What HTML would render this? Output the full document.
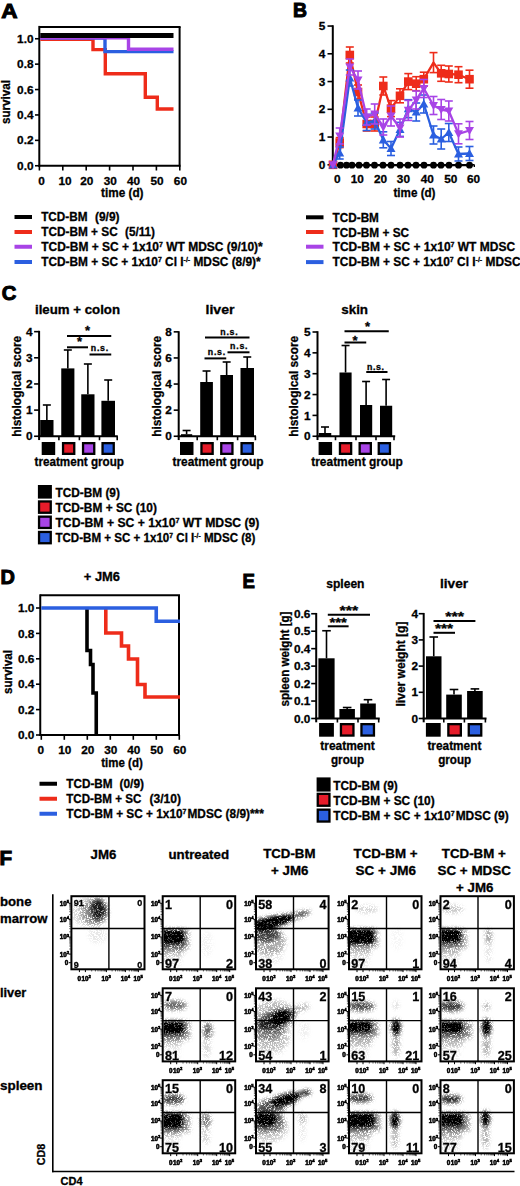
<!DOCTYPE html><html><head><meta charset="utf-8"><title>Figure</title>
<style>html,body{margin:0;padding:0;background:#fff}svg{display:block;filter:blur(0.45px)}text{font-family:"Liberation Sans",sans-serif;font-weight:bold;fill:#000;stroke:#000;stroke-width:.3px}.pl{stroke-width:1px;stroke-linejoin:miter}.tk{stroke-width:.55px}</style></head><body>
<svg width="520" height="1186" viewBox="0 0 520 1186">
<rect width="520" height="1186" fill="#fff"/>
<defs>
<radialGradient id="g"><stop offset="0" stop-color="#000" stop-opacity="1"/><stop offset="0.4" stop-color="#000" stop-opacity="0.95"/><stop offset="0.7" stop-color="#000" stop-opacity="0.55"/><stop offset="0.9" stop-color="#000" stop-opacity="0.15"/><stop offset="1" stop-color="#000" stop-opacity="0"/></radialGradient>
<filter id="spk" filterUnits="userSpaceOnUse" x="60" y="890" width="460" height="270" color-interpolation-filters="sRGB"><feGaussianBlur in="SourceAlpha" stdDeviation="2.3" result="bl"/><feTurbulence type="fractalNoise" baseFrequency="1.7" numOctaves="1" seed="11" result="n"/><feColorMatrix in="n" type="matrix" values="0 0 0 0 0 0 0 0 0 0 0 0 0 0 0 2.2 0 0 0 -0.1" result="na"/><feComposite in="bl" in2="na" operator="arithmetic" k1="0" k2="1" k3="1" k4="-1" result="d"/><feComponentTransfer in="d"><feFuncR type="linear" slope="0" intercept="0"/><feFuncG type="linear" slope="0" intercept="0"/><feFuncB type="linear" slope="0" intercept="0"/><feFuncA type="linear" slope="1.2" intercept="0"/></feComponentTransfer><feGaussianBlur stdDeviation="0.3"/></filter>
</defs>
<text class="pl" x="1.3" y="17.7" font-size="19.3" textLength="16.3" lengthAdjust="spacingAndGlyphs">A</text>
<line x1="39.3" y1="25.9" x2="39.3" y2="166.75" stroke="#000" stroke-width="2"/>
<line x1="38.3" y1="165.75" x2="180.6" y2="165.75" stroke="#000" stroke-width="2"/>
<line x1="39.3" y1="26.9" x2="180.6" y2="26.9" stroke="#000" stroke-width="2"/>
<line x1="179.6" y1="26.9" x2="179.6" y2="165.75" stroke="#000" stroke-width="2"/>
<line x1="35" y1="165.75" x2="39.3" y2="165.75" stroke="#000" stroke-width="1.6"/>
<text x="33.5" y="169.85" font-size="11.8" text-anchor="end">0.0</text>
<line x1="35" y1="140.35" x2="39.3" y2="140.35" stroke="#000" stroke-width="1.6"/>
<text x="33.5" y="144.45" font-size="11.8" text-anchor="end">0.2</text>
<line x1="35" y1="114.94999999999999" x2="39.3" y2="114.94999999999999" stroke="#000" stroke-width="1.6"/>
<text x="33.5" y="119.04999999999998" font-size="11.8" text-anchor="end">0.4</text>
<line x1="35" y1="89.54999999999998" x2="39.3" y2="89.54999999999998" stroke="#000" stroke-width="1.6"/>
<text x="33.5" y="93.64999999999998" font-size="11.8" text-anchor="end">0.6</text>
<line x1="35" y1="64.14999999999999" x2="39.3" y2="64.14999999999999" stroke="#000" stroke-width="1.6"/>
<text x="33.5" y="68.24999999999999" font-size="11.8" text-anchor="end">0.8</text>
<line x1="35" y1="38.75" x2="39.3" y2="38.75" stroke="#000" stroke-width="1.6"/>
<text x="33.5" y="42.85" font-size="11.8" text-anchor="end">1.0</text>
<line x1="39.4" y1="165.75" x2="39.4" y2="170.5" stroke="#000" stroke-width="1.6"/>
<text x="41.6" y="184.6" font-size="11.8" text-anchor="middle">0</text>
<line x1="62.8" y1="165.75" x2="62.8" y2="170.5" stroke="#000" stroke-width="1.6"/>
<text x="65.0" y="184.6" font-size="11.8" text-anchor="middle">10</text>
<line x1="86.19999999999999" y1="165.75" x2="86.19999999999999" y2="170.5" stroke="#000" stroke-width="1.6"/>
<text x="86.79999999999998" y="184.6" font-size="11.8" text-anchor="middle">20</text>
<line x1="109.6" y1="165.75" x2="109.6" y2="170.5" stroke="#000" stroke-width="1.6"/>
<text x="110.19999999999999" y="184.6" font-size="11.8" text-anchor="middle">30</text>
<line x1="133.0" y1="165.75" x2="133.0" y2="170.5" stroke="#000" stroke-width="1.6"/>
<text x="133.6" y="184.6" font-size="11.8" text-anchor="middle">40</text>
<line x1="156.4" y1="165.75" x2="156.4" y2="170.5" stroke="#000" stroke-width="1.6"/>
<text x="157.0" y="184.6" font-size="11.8" text-anchor="middle">50</text>
<line x1="179.79999999999998" y1="165.75" x2="179.79999999999998" y2="170.5" stroke="#000" stroke-width="1.6"/>
<text x="180.39999999999998" y="184.6" font-size="11.8" text-anchor="middle">60</text>
<text transform="translate(10,102) rotate(-90)" font-size="12" text-anchor="middle" textLength="44" lengthAdjust="spacingAndGlyphs">survival</text>
<text x="101" y="196.6" font-size="12" textLength="42.5" lengthAdjust="spacingAndGlyphs">time (d)</text>
<polyline points="40.30,39.20 93.00,39.20 93.00,49.60 105.30,49.60 105.30,73.80 145.30,73.80 145.30,97.20 157.30,97.20 157.30,109.00 173.50,109.00" fill="none" stroke="#ee2c1a" stroke-width="3.4"/>
<polyline points="40.30,38.00 105.00,38.00 105.00,51.60 173.50,51.60" fill="none" stroke="#2b5fe0" stroke-width="3.4"/>
<polyline points="40.30,37.70 128.50,37.70 128.50,49.20 173.50,49.20" fill="none" stroke="#a844e6" stroke-width="3.4"/>
<line x1="40.3" y1="35.4" x2="173.5" y2="35.4" stroke="#000" stroke-width="5"/>
<line x1="14.5" y1="217" x2="32" y2="217" stroke="#000" stroke-width="4"/>
<line x1="14.5" y1="232" x2="32" y2="232" stroke="#ee2c1a" stroke-width="4"/>
<line x1="14.5" y1="246.75" x2="32" y2="246.75" stroke="#a844e6" stroke-width="4"/>
<line x1="14.5" y1="262" x2="32" y2="262" stroke="#2b5fe0" stroke-width="4"/>
<text x="41.2" y="221.4" font-size="12" textLength="46.3" lengthAdjust="spacingAndGlyphs">TCD-BM</text>
<text x="95" y="221.4" font-size="12" textLength="24.5" lengthAdjust="spacingAndGlyphs">(9/9)</text>
<text x="41.2" y="236.4" font-size="12" textLength="76.5" lengthAdjust="spacingAndGlyphs">TCD-BM + SC</text>
<text x="125" y="236.4" font-size="12" textLength="30" lengthAdjust="spacingAndGlyphs">(5/11)</text>
<text x="41.2" y="251.15" font-size="12" textLength="221.5" lengthAdjust="spacingAndGlyphs">TCD-BM + SC + 1x10<tspan font-size="7" dy="-4">7</tspan><tspan dy="4"> </tspan>WT MDSC (9/10)*</text>
<text x="41.2" y="266.4" font-size="12" textLength="219.5" lengthAdjust="spacingAndGlyphs">TCD-BM + SC + 1x10<tspan font-size="7" dy="-4">7</tspan><tspan dy="4"> </tspan>Cl I<tspan font-size="7" dy="-4">-/-</tspan><tspan dy="4"> </tspan>MDSC (8/9)*</text>
<text class="pl" x="293" y="17.3" font-size="19.3" textLength="14" lengthAdjust="spacingAndGlyphs">B</text>
<line x1="332.8" y1="25.25000000000001" x2="332.8" y2="165.8" stroke="#000" stroke-width="2"/>
<line x1="332.8" y1="164.8" x2="474.5" y2="164.8" stroke="#000" stroke-width="1.6"/>
<line x1="474.3" y1="164.8" x2="474.3" y2="167" stroke="#000" stroke-width="1.4"/>
<line x1="327.5" y1="164.8" x2="332.8" y2="164.8" stroke="#000" stroke-width="1.6"/>
<text x="325.3" y="168.9" font-size="11.8" text-anchor="end">0</text>
<line x1="327.5" y1="137.05" x2="332.8" y2="137.05" stroke="#000" stroke-width="1.6"/>
<text x="325.3" y="141.15" font-size="11.8" text-anchor="end">1</text>
<line x1="327.5" y1="109.30000000000001" x2="332.8" y2="109.30000000000001" stroke="#000" stroke-width="1.6"/>
<text x="325.3" y="113.4" font-size="11.8" text-anchor="end">2</text>
<line x1="327.5" y1="81.55000000000001" x2="332.8" y2="81.55000000000001" stroke="#000" stroke-width="1.6"/>
<text x="325.3" y="85.65" font-size="11.8" text-anchor="end">3</text>
<line x1="327.5" y1="53.80000000000001" x2="332.8" y2="53.80000000000001" stroke="#000" stroke-width="1.6"/>
<text x="325.3" y="57.90000000000001" font-size="11.8" text-anchor="end">4</text>
<line x1="327.5" y1="26.05000000000001" x2="332.8" y2="26.05000000000001" stroke="#000" stroke-width="1.6"/>
<text x="325.3" y="30.150000000000013" font-size="11.8" text-anchor="end">5</text>
<text x="337.3" y="182.6" font-size="11.8" text-anchor="middle">0</text>
<text x="357.2" y="182.6" font-size="11.8" text-anchor="middle">10</text>
<text x="380.5" y="182.6" font-size="11.8" text-anchor="middle">20</text>
<text x="403.4" y="182.6" font-size="11.8" text-anchor="middle">30</text>
<text x="427.2" y="182.6" font-size="11.8" text-anchor="middle">40</text>
<text x="450.8" y="182.6" font-size="11.8" text-anchor="middle">50</text>
<text x="473.6" y="182.6" font-size="11.8" text-anchor="middle">60</text>
<text x="393.5" y="196.6" font-size="12" textLength="42" lengthAdjust="spacingAndGlyphs">time (d)</text>
<line x1="339.7" y1="137.6" x2="339.7" y2="147.6" stroke="#ee2c1a" stroke-width="1.6"/>
<line x1="335.7" y1="137.6" x2="343.7" y2="137.6" stroke="#ee2c1a" stroke-width="1.6"/>
<line x1="335.7" y1="147.6" x2="343.7" y2="147.6" stroke="#ee2c1a" stroke-width="1.6"/>
<line x1="349.8" y1="47" x2="349.8" y2="63" stroke="#ee2c1a" stroke-width="1.6"/>
<line x1="345.8" y1="47" x2="353.8" y2="47" stroke="#ee2c1a" stroke-width="1.6"/>
<line x1="345.8" y1="63" x2="353.8" y2="63" stroke="#ee2c1a" stroke-width="1.6"/>
<line x1="358" y1="85" x2="358" y2="99" stroke="#ee2c1a" stroke-width="1.6"/>
<line x1="354" y1="85" x2="362" y2="85" stroke="#ee2c1a" stroke-width="1.6"/>
<line x1="354" y1="99" x2="362" y2="99" stroke="#ee2c1a" stroke-width="1.6"/>
<line x1="366.7" y1="117" x2="366.7" y2="131" stroke="#ee2c1a" stroke-width="1.6"/>
<line x1="362.7" y1="117" x2="370.7" y2="117" stroke="#ee2c1a" stroke-width="1.6"/>
<line x1="362.7" y1="131" x2="370.7" y2="131" stroke="#ee2c1a" stroke-width="1.6"/>
<line x1="374.7" y1="117" x2="374.7" y2="131" stroke="#ee2c1a" stroke-width="1.6"/>
<line x1="370.7" y1="117" x2="378.7" y2="117" stroke="#ee2c1a" stroke-width="1.6"/>
<line x1="370.7" y1="131" x2="378.7" y2="131" stroke="#ee2c1a" stroke-width="1.6"/>
<line x1="383.3" y1="77" x2="383.3" y2="95" stroke="#ee2c1a" stroke-width="1.6"/>
<line x1="379.3" y1="77" x2="387.3" y2="77" stroke="#ee2c1a" stroke-width="1.6"/>
<line x1="379.3" y1="95" x2="387.3" y2="95" stroke="#ee2c1a" stroke-width="1.6"/>
<line x1="391" y1="100.6" x2="391" y2="116.6" stroke="#ee2c1a" stroke-width="1.6"/>
<line x1="387" y1="100.6" x2="395" y2="100.6" stroke="#ee2c1a" stroke-width="1.6"/>
<line x1="387" y1="116.6" x2="395" y2="116.6" stroke="#ee2c1a" stroke-width="1.6"/>
<line x1="400" y1="88.8" x2="400" y2="102.8" stroke="#ee2c1a" stroke-width="1.6"/>
<line x1="396" y1="88.8" x2="404" y2="88.8" stroke="#ee2c1a" stroke-width="1.6"/>
<line x1="396" y1="102.8" x2="404" y2="102.8" stroke="#ee2c1a" stroke-width="1.6"/>
<line x1="408.3" y1="73.6" x2="408.3" y2="89.6" stroke="#ee2c1a" stroke-width="1.6"/>
<line x1="404.3" y1="73.6" x2="412.3" y2="73.6" stroke="#ee2c1a" stroke-width="1.6"/>
<line x1="404.3" y1="89.6" x2="412.3" y2="89.6" stroke="#ee2c1a" stroke-width="1.6"/>
<line x1="416.2" y1="76.7" x2="416.2" y2="90.7" stroke="#ee2c1a" stroke-width="1.6"/>
<line x1="412.2" y1="76.7" x2="420.2" y2="76.7" stroke="#ee2c1a" stroke-width="1.6"/>
<line x1="412.2" y1="90.7" x2="420.2" y2="90.7" stroke="#ee2c1a" stroke-width="1.6"/>
<line x1="423.8" y1="72.2" x2="423.8" y2="86.2" stroke="#ee2c1a" stroke-width="1.6"/>
<line x1="419.8" y1="72.2" x2="427.8" y2="72.2" stroke="#ee2c1a" stroke-width="1.6"/>
<line x1="419.8" y1="86.2" x2="427.8" y2="86.2" stroke="#ee2c1a" stroke-width="1.6"/>
<line x1="433.5" y1="52.6" x2="433.5" y2="72.6" stroke="#ee2c1a" stroke-width="1.6"/>
<line x1="429.5" y1="52.6" x2="437.5" y2="52.6" stroke="#ee2c1a" stroke-width="1.6"/>
<line x1="429.5" y1="72.6" x2="437.5" y2="72.6" stroke="#ee2c1a" stroke-width="1.6"/>
<line x1="441.2" y1="65.3" x2="441.2" y2="81.3" stroke="#ee2c1a" stroke-width="1.6"/>
<line x1="437.2" y1="65.3" x2="445.2" y2="65.3" stroke="#ee2c1a" stroke-width="1.6"/>
<line x1="437.2" y1="81.3" x2="445.2" y2="81.3" stroke="#ee2c1a" stroke-width="1.6"/>
<line x1="448.8" y1="66" x2="448.8" y2="82" stroke="#ee2c1a" stroke-width="1.6"/>
<line x1="444.8" y1="66" x2="452.8" y2="66" stroke="#ee2c1a" stroke-width="1.6"/>
<line x1="444.8" y1="82" x2="452.8" y2="82" stroke="#ee2c1a" stroke-width="1.6"/>
<line x1="458.5" y1="66.7" x2="458.5" y2="82.7" stroke="#ee2c1a" stroke-width="1.6"/>
<line x1="454.5" y1="66.7" x2="462.5" y2="66.7" stroke="#ee2c1a" stroke-width="1.6"/>
<line x1="454.5" y1="82.7" x2="462.5" y2="82.7" stroke="#ee2c1a" stroke-width="1.6"/>
<line x1="469.5" y1="70.2" x2="469.5" y2="88.2" stroke="#ee2c1a" stroke-width="1.6"/>
<line x1="465.5" y1="70.2" x2="473.5" y2="70.2" stroke="#ee2c1a" stroke-width="1.6"/>
<line x1="465.5" y1="88.2" x2="473.5" y2="88.2" stroke="#ee2c1a" stroke-width="1.6"/>
<polyline points="333.00,164.80 339.70,142.60 349.80,55.00 358.00,92.00 366.70,124.00 374.70,124.00 383.30,86.00 391.00,108.60 400.00,95.80 408.30,81.60 416.20,83.70 423.80,79.20 433.50,62.60 441.20,73.30 448.80,74.00 458.50,74.70 469.50,79.20" fill="none" stroke="#ee2c1a" stroke-width="2.3" stroke-linejoin="round"/>
<rect x="328.7" y="160.5" width="8.6" height="8.6" fill="#ee2c1a"/>
<rect x="335.4" y="138.29999999999998" width="8.6" height="8.6" fill="#ee2c1a"/>
<rect x="345.5" y="50.7" width="8.6" height="8.6" fill="#ee2c1a"/>
<rect x="353.7" y="87.7" width="8.6" height="8.6" fill="#ee2c1a"/>
<rect x="362.4" y="119.7" width="8.6" height="8.6" fill="#ee2c1a"/>
<rect x="370.4" y="119.7" width="8.6" height="8.6" fill="#ee2c1a"/>
<rect x="379.0" y="81.7" width="8.6" height="8.6" fill="#ee2c1a"/>
<rect x="386.7" y="104.3" width="8.6" height="8.6" fill="#ee2c1a"/>
<rect x="395.7" y="91.5" width="8.6" height="8.6" fill="#ee2c1a"/>
<rect x="404.0" y="77.3" width="8.6" height="8.6" fill="#ee2c1a"/>
<rect x="411.9" y="79.4" width="8.6" height="8.6" fill="#ee2c1a"/>
<rect x="419.5" y="74.9" width="8.6" height="8.6" fill="#ee2c1a"/>
<rect x="436.9" y="69.0" width="8.6" height="8.6" fill="#ee2c1a"/>
<rect x="444.5" y="69.7" width="8.6" height="8.6" fill="#ee2c1a"/>
<rect x="454.2" y="70.4" width="8.6" height="8.6" fill="#ee2c1a"/>
<rect x="465.2" y="74.9" width="8.6" height="8.6" fill="#ee2c1a"/>
<line x1="339.7" y1="147" x2="339.7" y2="159" stroke="#2b5fe0" stroke-width="1.6"/>
<line x1="335.7" y1="147" x2="343.7" y2="147" stroke="#2b5fe0" stroke-width="1.6"/>
<line x1="335.7" y1="159" x2="343.7" y2="159" stroke="#2b5fe0" stroke-width="1.6"/>
<line x1="349.8" y1="70" x2="349.8" y2="86" stroke="#2b5fe0" stroke-width="1.6"/>
<line x1="345.8" y1="70" x2="353.8" y2="70" stroke="#2b5fe0" stroke-width="1.6"/>
<line x1="345.8" y1="86" x2="353.8" y2="86" stroke="#2b5fe0" stroke-width="1.6"/>
<line x1="358" y1="100" x2="358" y2="116" stroke="#2b5fe0" stroke-width="1.6"/>
<line x1="354" y1="100" x2="362" y2="100" stroke="#2b5fe0" stroke-width="1.6"/>
<line x1="354" y1="116" x2="362" y2="116" stroke="#2b5fe0" stroke-width="1.6"/>
<line x1="366.7" y1="114.5" x2="366.7" y2="130.5" stroke="#2b5fe0" stroke-width="1.6"/>
<line x1="362.7" y1="114.5" x2="370.7" y2="114.5" stroke="#2b5fe0" stroke-width="1.6"/>
<line x1="362.7" y1="130.5" x2="370.7" y2="130.5" stroke="#2b5fe0" stroke-width="1.6"/>
<line x1="374.7" y1="113" x2="374.7" y2="129" stroke="#2b5fe0" stroke-width="1.6"/>
<line x1="370.7" y1="113" x2="378.7" y2="113" stroke="#2b5fe0" stroke-width="1.6"/>
<line x1="370.7" y1="129" x2="378.7" y2="129" stroke="#2b5fe0" stroke-width="1.6"/>
<line x1="383.3" y1="131.8" x2="383.3" y2="147.8" stroke="#2b5fe0" stroke-width="1.6"/>
<line x1="379.3" y1="131.8" x2="387.3" y2="131.8" stroke="#2b5fe0" stroke-width="1.6"/>
<line x1="379.3" y1="147.8" x2="387.3" y2="147.8" stroke="#2b5fe0" stroke-width="1.6"/>
<line x1="391" y1="141.5" x2="391" y2="155.5" stroke="#2b5fe0" stroke-width="1.6"/>
<line x1="387" y1="141.5" x2="395" y2="141.5" stroke="#2b5fe0" stroke-width="1.6"/>
<line x1="387" y1="155.5" x2="395" y2="155.5" stroke="#2b5fe0" stroke-width="1.6"/>
<line x1="400" y1="122.4" x2="400" y2="136.4" stroke="#2b5fe0" stroke-width="1.6"/>
<line x1="396" y1="122.4" x2="404" y2="122.4" stroke="#2b5fe0" stroke-width="1.6"/>
<line x1="396" y1="136.4" x2="404" y2="136.4" stroke="#2b5fe0" stroke-width="1.6"/>
<line x1="408.3" y1="99.7" x2="408.3" y2="117.7" stroke="#2b5fe0" stroke-width="1.6"/>
<line x1="404.3" y1="99.7" x2="412.3" y2="99.7" stroke="#2b5fe0" stroke-width="1.6"/>
<line x1="404.3" y1="117.7" x2="412.3" y2="117.7" stroke="#2b5fe0" stroke-width="1.6"/>
<line x1="416.2" y1="103" x2="416.2" y2="121" stroke="#2b5fe0" stroke-width="1.6"/>
<line x1="412.2" y1="103" x2="420.2" y2="103" stroke="#2b5fe0" stroke-width="1.6"/>
<line x1="412.2" y1="121" x2="420.2" y2="121" stroke="#2b5fe0" stroke-width="1.6"/>
<line x1="423.8" y1="95" x2="423.8" y2="113" stroke="#2b5fe0" stroke-width="1.6"/>
<line x1="419.8" y1="95" x2="427.8" y2="95" stroke="#2b5fe0" stroke-width="1.6"/>
<line x1="419.8" y1="113" x2="427.8" y2="113" stroke="#2b5fe0" stroke-width="1.6"/>
<line x1="433.5" y1="126" x2="433.5" y2="144" stroke="#2b5fe0" stroke-width="1.6"/>
<line x1="429.5" y1="126" x2="437.5" y2="126" stroke="#2b5fe0" stroke-width="1.6"/>
<line x1="429.5" y1="144" x2="437.5" y2="144" stroke="#2b5fe0" stroke-width="1.6"/>
<line x1="441.2" y1="129" x2="441.2" y2="149" stroke="#2b5fe0" stroke-width="1.6"/>
<line x1="437.2" y1="129" x2="445.2" y2="129" stroke="#2b5fe0" stroke-width="1.6"/>
<line x1="437.2" y1="149" x2="445.2" y2="149" stroke="#2b5fe0" stroke-width="1.6"/>
<line x1="448.8" y1="123.5" x2="448.8" y2="141.5" stroke="#2b5fe0" stroke-width="1.6"/>
<line x1="444.8" y1="123.5" x2="452.8" y2="123.5" stroke="#2b5fe0" stroke-width="1.6"/>
<line x1="444.8" y1="141.5" x2="452.8" y2="141.5" stroke="#2b5fe0" stroke-width="1.6"/>
<line x1="458.5" y1="147" x2="458.5" y2="161" stroke="#2b5fe0" stroke-width="1.6"/>
<line x1="454.5" y1="147" x2="462.5" y2="147" stroke="#2b5fe0" stroke-width="1.6"/>
<line x1="454.5" y1="161" x2="462.5" y2="161" stroke="#2b5fe0" stroke-width="1.6"/>
<line x1="469.5" y1="146.5" x2="469.5" y2="160.5" stroke="#2b5fe0" stroke-width="1.6"/>
<line x1="465.5" y1="146.5" x2="473.5" y2="146.5" stroke="#2b5fe0" stroke-width="1.6"/>
<line x1="465.5" y1="160.5" x2="473.5" y2="160.5" stroke="#2b5fe0" stroke-width="1.6"/>
<polyline points="333.00,164.80 339.70,153.00 349.80,78.00 358.00,108.00 366.70,122.50 374.70,121.00 383.30,139.80 391.00,148.50 400.00,129.40 408.30,108.70 416.20,112.00 423.80,104.00 433.50,135.00 441.20,139.00 448.80,132.50 458.50,154.00 469.50,153.50" fill="none" stroke="#2b5fe0" stroke-width="2.3" stroke-linejoin="round"/>
<path d="M328.5 168.4L337.5 168.4L333 160.20000000000002Z" fill="#2b5fe0"/>
<path d="M335.2 156.6L344.2 156.6L339.7 148.4Z" fill="#2b5fe0"/>
<path d="M345.3 81.6L354.3 81.6L349.8 73.4Z" fill="#2b5fe0"/>
<path d="M353.5 111.6L362.5 111.6L358 103.4Z" fill="#2b5fe0"/>
<path d="M362.2 126.1L371.2 126.1L366.7 117.9Z" fill="#2b5fe0"/>
<path d="M370.2 124.6L379.2 124.6L374.7 116.4Z" fill="#2b5fe0"/>
<path d="M378.8 143.4L387.8 143.4L383.3 135.20000000000002Z" fill="#2b5fe0"/>
<path d="M386.5 152.1L395.5 152.1L391 143.9Z" fill="#2b5fe0"/>
<path d="M395.5 133.0L404.5 133.0L400 124.80000000000001Z" fill="#2b5fe0"/>
<path d="M403.8 112.3L412.8 112.3L408.3 104.10000000000001Z" fill="#2b5fe0"/>
<path d="M411.7 115.6L420.7 115.6L416.2 107.4Z" fill="#2b5fe0"/>
<path d="M419.3 107.6L428.3 107.6L423.8 99.4Z" fill="#2b5fe0"/>
<path d="M429.0 138.6L438.0 138.6L433.5 130.4Z" fill="#2b5fe0"/>
<path d="M436.7 142.6L445.7 142.6L441.2 134.4Z" fill="#2b5fe0"/>
<path d="M444.3 136.1L453.3 136.1L448.8 127.9Z" fill="#2b5fe0"/>
<path d="M454.0 157.6L463.0 157.6L458.5 149.4Z" fill="#2b5fe0"/>
<path d="M465.0 157.1L474.0 157.1L469.5 148.9Z" fill="#2b5fe0"/>
<line x1="339.7" y1="128" x2="339.7" y2="144" stroke="#a844e6" stroke-width="1.6"/>
<line x1="335.7" y1="128" x2="343.7" y2="128" stroke="#a844e6" stroke-width="1.6"/>
<line x1="335.7" y1="144" x2="343.7" y2="144" stroke="#a844e6" stroke-width="1.6"/>
<line x1="349.8" y1="59" x2="349.8" y2="75" stroke="#a844e6" stroke-width="1.6"/>
<line x1="345.8" y1="59" x2="353.8" y2="59" stroke="#a844e6" stroke-width="1.6"/>
<line x1="345.8" y1="75" x2="353.8" y2="75" stroke="#a844e6" stroke-width="1.6"/>
<line x1="358" y1="71" x2="358" y2="89" stroke="#a844e6" stroke-width="1.6"/>
<line x1="354" y1="71" x2="362" y2="71" stroke="#a844e6" stroke-width="1.6"/>
<line x1="354" y1="89" x2="362" y2="89" stroke="#a844e6" stroke-width="1.6"/>
<line x1="366.7" y1="109" x2="366.7" y2="125" stroke="#a844e6" stroke-width="1.6"/>
<line x1="362.7" y1="109" x2="370.7" y2="109" stroke="#a844e6" stroke-width="1.6"/>
<line x1="362.7" y1="125" x2="370.7" y2="125" stroke="#a844e6" stroke-width="1.6"/>
<line x1="374.7" y1="104" x2="374.7" y2="124" stroke="#a844e6" stroke-width="1.6"/>
<line x1="370.7" y1="104" x2="378.7" y2="104" stroke="#a844e6" stroke-width="1.6"/>
<line x1="370.7" y1="124" x2="378.7" y2="124" stroke="#a844e6" stroke-width="1.6"/>
<line x1="383.3" y1="119" x2="383.3" y2="135" stroke="#a844e6" stroke-width="1.6"/>
<line x1="379.3" y1="119" x2="387.3" y2="119" stroke="#a844e6" stroke-width="1.6"/>
<line x1="379.3" y1="135" x2="387.3" y2="135" stroke="#a844e6" stroke-width="1.6"/>
<line x1="391" y1="106" x2="391" y2="126" stroke="#a844e6" stroke-width="1.6"/>
<line x1="387" y1="106" x2="395" y2="106" stroke="#a844e6" stroke-width="1.6"/>
<line x1="387" y1="126" x2="395" y2="126" stroke="#a844e6" stroke-width="1.6"/>
<line x1="400" y1="119" x2="400" y2="137" stroke="#a844e6" stroke-width="1.6"/>
<line x1="396" y1="119" x2="404" y2="119" stroke="#a844e6" stroke-width="1.6"/>
<line x1="396" y1="137" x2="404" y2="137" stroke="#a844e6" stroke-width="1.6"/>
<line x1="408.3" y1="100.4" x2="408.3" y2="120.4" stroke="#a844e6" stroke-width="1.6"/>
<line x1="404.3" y1="100.4" x2="412.3" y2="100.4" stroke="#a844e6" stroke-width="1.6"/>
<line x1="404.3" y1="120.4" x2="412.3" y2="120.4" stroke="#a844e6" stroke-width="1.6"/>
<line x1="416.2" y1="91" x2="416.2" y2="109" stroke="#a844e6" stroke-width="1.6"/>
<line x1="412.2" y1="91" x2="420.2" y2="91" stroke="#a844e6" stroke-width="1.6"/>
<line x1="412.2" y1="109" x2="420.2" y2="109" stroke="#a844e6" stroke-width="1.6"/>
<line x1="423.8" y1="79.5" x2="423.8" y2="97.5" stroke="#a844e6" stroke-width="1.6"/>
<line x1="419.8" y1="79.5" x2="427.8" y2="79.5" stroke="#a844e6" stroke-width="1.6"/>
<line x1="419.8" y1="97.5" x2="427.8" y2="97.5" stroke="#a844e6" stroke-width="1.6"/>
<line x1="433.5" y1="96.5" x2="433.5" y2="114.5" stroke="#a844e6" stroke-width="1.6"/>
<line x1="429.5" y1="96.5" x2="437.5" y2="96.5" stroke="#a844e6" stroke-width="1.6"/>
<line x1="429.5" y1="114.5" x2="437.5" y2="114.5" stroke="#a844e6" stroke-width="1.6"/>
<line x1="441.2" y1="99.5" x2="441.2" y2="119.5" stroke="#a844e6" stroke-width="1.6"/>
<line x1="437.2" y1="99.5" x2="445.2" y2="99.5" stroke="#a844e6" stroke-width="1.6"/>
<line x1="437.2" y1="119.5" x2="445.2" y2="119.5" stroke="#a844e6" stroke-width="1.6"/>
<line x1="448.8" y1="101" x2="448.8" y2="121" stroke="#a844e6" stroke-width="1.6"/>
<line x1="444.8" y1="101" x2="452.8" y2="101" stroke="#a844e6" stroke-width="1.6"/>
<line x1="444.8" y1="121" x2="452.8" y2="121" stroke="#a844e6" stroke-width="1.6"/>
<line x1="458.5" y1="123.80000000000001" x2="458.5" y2="143.8" stroke="#a844e6" stroke-width="1.6"/>
<line x1="454.5" y1="123.80000000000001" x2="462.5" y2="123.80000000000001" stroke="#a844e6" stroke-width="1.6"/>
<line x1="454.5" y1="143.8" x2="462.5" y2="143.8" stroke="#a844e6" stroke-width="1.6"/>
<line x1="469.5" y1="121.5" x2="469.5" y2="139.5" stroke="#a844e6" stroke-width="1.6"/>
<line x1="465.5" y1="121.5" x2="473.5" y2="121.5" stroke="#a844e6" stroke-width="1.6"/>
<line x1="465.5" y1="139.5" x2="473.5" y2="139.5" stroke="#a844e6" stroke-width="1.6"/>
<polyline points="333.00,164.80 339.70,136.00 349.80,67.00 358.00,80.00 366.70,117.00 374.70,114.00 383.30,127.00 391.00,116.00 400.00,128.00 408.30,110.40 416.20,100.00 423.80,88.50 433.50,105.50 441.20,109.50 448.80,111.00 458.50,133.80 469.50,130.50" fill="none" stroke="#a844e6" stroke-width="2.3" stroke-linejoin="round"/>
<path d="M328.5 161.20000000000002L337.5 161.20000000000002L333 169.4Z" fill="#a844e6"/>
<path d="M335.2 132.4L344.2 132.4L339.7 140.6Z" fill="#a844e6"/>
<path d="M345.3 63.4L354.3 63.4L349.8 71.6Z" fill="#a844e6"/>
<path d="M353.5 76.4L362.5 76.4L358 84.6Z" fill="#a844e6"/>
<path d="M362.2 113.4L371.2 113.4L366.7 121.6Z" fill="#a844e6"/>
<path d="M370.2 110.4L379.2 110.4L374.7 118.6Z" fill="#a844e6"/>
<path d="M378.8 123.4L387.8 123.4L383.3 131.6Z" fill="#a844e6"/>
<path d="M386.5 112.4L395.5 112.4L391 120.6Z" fill="#a844e6"/>
<path d="M395.5 124.4L404.5 124.4L400 132.6Z" fill="#a844e6"/>
<path d="M403.8 106.80000000000001L412.8 106.80000000000001L408.3 115.0Z" fill="#a844e6"/>
<path d="M411.7 96.4L420.7 96.4L416.2 104.6Z" fill="#a844e6"/>
<path d="M419.3 84.9L428.3 84.9L423.8 93.1Z" fill="#a844e6"/>
<path d="M429.0 101.9L438.0 101.9L433.5 110.1Z" fill="#a844e6"/>
<path d="M436.7 105.9L445.7 105.9L441.2 114.1Z" fill="#a844e6"/>
<path d="M444.3 107.4L453.3 107.4L448.8 115.6Z" fill="#a844e6"/>
<path d="M454.0 130.20000000000002L463.0 130.20000000000002L458.5 138.4Z" fill="#a844e6"/>
<path d="M465.0 126.9L474.0 126.9L469.5 135.1Z" fill="#a844e6"/>
<line x1="337" y1="165.2" x2="470" y2="165.2" stroke="#000" stroke-width="2"/>
<circle cx="340.5" cy="165.2" r="3.4" fill="#000"/>
<circle cx="346.5" cy="165.2" r="3.4" fill="#000"/>
<circle cx="352" cy="165.2" r="3.4" fill="#000"/>
<circle cx="359" cy="165.2" r="3.4" fill="#000"/>
<circle cx="366.5" cy="165.2" r="3.4" fill="#000"/>
<circle cx="374.5" cy="165.2" r="3.4" fill="#000"/>
<circle cx="383" cy="165.2" r="3.4" fill="#000"/>
<circle cx="391" cy="165.2" r="3.4" fill="#000"/>
<circle cx="400" cy="165.2" r="3.4" fill="#000"/>
<circle cx="408" cy="165.2" r="3.4" fill="#000"/>
<circle cx="416" cy="165.2" r="3.4" fill="#000"/>
<circle cx="424" cy="165.2" r="3.4" fill="#000"/>
<circle cx="433.5" cy="165.2" r="3.4" fill="#000"/>
<circle cx="441" cy="165.2" r="3.4" fill="#000"/>
<circle cx="449" cy="165.2" r="3.4" fill="#000"/>
<circle cx="458.5" cy="165.2" r="3.4" fill="#000"/>
<circle cx="469.5" cy="165.2" r="3.4" fill="#000"/>
<line x1="306" y1="217.3" x2="323.5" y2="217.3" stroke="#000" stroke-width="4"/>
<line x1="306" y1="232" x2="323.5" y2="232" stroke="#ee2c1a" stroke-width="4"/>
<line x1="306" y1="246.7" x2="323.5" y2="246.7" stroke="#a844e6" stroke-width="4"/>
<line x1="306" y1="262.1" x2="323.5" y2="262.1" stroke="#2b5fe0" stroke-width="4"/>
<text x="332.6" y="221.8" font-size="12" textLength="46.3" lengthAdjust="spacingAndGlyphs">TCD-BM</text>
<text x="332.6" y="236.5" font-size="12" textLength="76.5" lengthAdjust="spacingAndGlyphs">TCD-BM + SC</text>
<text x="332.6" y="251.2" font-size="12" textLength="182.5" lengthAdjust="spacingAndGlyphs">TCD-BM + SC + 1x10<tspan font-size="7" dy="-4">7</tspan><tspan dy="4"> </tspan>WT MDSC</text>
<text x="332.6" y="266.3" font-size="12" textLength="188" lengthAdjust="spacingAndGlyphs">TCD-BM + SC + 1x10<tspan font-size="7" dy="-4">7</tspan><tspan dy="4"> </tspan>Cl I<tspan font-size="7" dy="-4">-/-</tspan><tspan dy="4"> </tspan>MDSC</text>
<text class="pl" x="1.8" y="299.7" font-size="19.3" textLength="14.6" lengthAdjust="spacingAndGlyphs">C</text>
<text x="35" y="313.8" font-size="12" textLength="85" lengthAdjust="spacingAndGlyphs">ileum + colon</text>
<line x1="39.1" y1="330.8" x2="39.1" y2="440.05" stroke="#000" stroke-width="2"/>
<line x1="38.1" y1="436.25" x2="117.8" y2="436.25" stroke="#000" stroke-width="2"/>
<line x1="34.1" y1="436.25" x2="39.1" y2="436.25" stroke="#000" stroke-width="1.6"/>
<text x="32.6" y="440.35" font-size="11.8" text-anchor="end">0</text>
<line x1="34.1" y1="410.1" x2="39.1" y2="410.1" stroke="#000" stroke-width="1.6"/>
<text x="32.6" y="414.20000000000005" font-size="11.8" text-anchor="end">1</text>
<line x1="34.1" y1="383.95" x2="39.1" y2="383.95" stroke="#000" stroke-width="1.6"/>
<text x="32.6" y="388.05" font-size="11.8" text-anchor="end">2</text>
<line x1="34.1" y1="357.8" x2="39.1" y2="357.8" stroke="#000" stroke-width="1.6"/>
<text x="32.6" y="361.90000000000003" font-size="11.8" text-anchor="end">3</text>
<line x1="34.1" y1="331.65" x2="39.1" y2="331.65" stroke="#000" stroke-width="1.6"/>
<text x="32.6" y="335.75" font-size="11.8" text-anchor="end">4</text>
<line x1="58.9" y1="436.25" x2="58.9" y2="440.25" stroke="#000" stroke-width="1.6"/>
<line x1="79.4" y1="436.25" x2="79.4" y2="440.25" stroke="#000" stroke-width="1.6"/>
<line x1="99.5" y1="436.25" x2="99.5" y2="440.25" stroke="#000" stroke-width="1.6"/>
<line x1="117.2" y1="436.25" x2="117.2" y2="440.25" stroke="#000" stroke-width="1.6"/>
<rect x="40.2" y="420" width="13.299999999999997" height="16.25" fill="#000"/>
<line x1="46.85" y1="405" x2="46.85" y2="420" stroke="#000" stroke-width="1.6"/>
<line x1="42.85" y1="405" x2="50.85" y2="405" stroke="#000" stroke-width="1.6"/>
<rect x="61.25" y="368.4" width="13.150000000000006" height="67.85000000000002" fill="#000"/>
<line x1="67.825" y1="350" x2="67.825" y2="368.4" stroke="#000" stroke-width="1.6"/>
<line x1="63.825" y1="350" x2="71.825" y2="350" stroke="#000" stroke-width="1.6"/>
<rect x="81.25" y="394.3" width="13.25" height="41.94999999999999" fill="#000"/>
<line x1="87.875" y1="364" x2="87.875" y2="394.3" stroke="#000" stroke-width="1.6"/>
<line x1="83.875" y1="364" x2="91.875" y2="364" stroke="#000" stroke-width="1.6"/>
<rect x="101.4" y="400.8" width="13.599999999999994" height="35.44999999999999" fill="#000"/>
<line x1="108.2" y1="380" x2="108.2" y2="400.8" stroke="#000" stroke-width="1.6"/>
<line x1="104.2" y1="380" x2="112.2" y2="380" stroke="#000" stroke-width="1.6"/>
<rect x="41.7" y="442" width="13.5" height="13" fill="#000"/>
<rect x="61.9" y="442" width="13.5" height="13" fill="#000"/>
<rect x="64.2" y="444.3" width="8.9" height="8.4" fill="#e61c2a"/>
<rect x="81.9" y="442" width="13.5" height="13" fill="#000"/>
<rect x="84.2" y="444.3" width="8.9" height="8.4" fill="#a844e6"/>
<rect x="101.4" y="442" width="13.5" height="13" fill="#000"/>
<rect x="103.7" y="444.3" width="8.9" height="8.4" fill="#2b5fe0"/>
<line x1="67" y1="336" x2="111.25" y2="336" stroke="#000" stroke-width="2"/>
<text x="87.5" y="335" font-size="13" text-anchor="middle">*</text>
<line x1="67" y1="347.3" x2="88" y2="347.3" stroke="#000" stroke-width="2"/>
<text x="79.5" y="346.4" font-size="13" text-anchor="middle">*</text>
<line x1="89.5" y1="354.5" x2="111.25" y2="354.5" stroke="#000" stroke-width="2"/>
<text x="99.5" y="351.3" font-size="8.8" text-anchor="middle" textLength="17.5" lengthAdjust="spacing">n.s.</text>
<text transform="translate(21.2,386.3) rotate(-90)" font-size="12" text-anchor="middle" textLength="101" lengthAdjust="spacingAndGlyphs">histological score</text>
<text x="34.5" y="466" font-size="12" textLength="89.5" lengthAdjust="spacingAndGlyphs">treatment group</text>
<text x="205.5" y="314" font-size="12" textLength="29" lengthAdjust="spacingAndGlyphs">liver</text>
<line x1="178.7" y1="331.2" x2="178.7" y2="440.05" stroke="#000" stroke-width="2"/>
<line x1="177.7" y1="436.25" x2="256" y2="436.25" stroke="#000" stroke-width="2"/>
<line x1="173.7" y1="436.25" x2="178.7" y2="436.25" stroke="#000" stroke-width="1.6"/>
<text x="171.7" y="440.35" font-size="11.8" text-anchor="end">0</text>
<line x1="173.7" y1="410.15" x2="178.7" y2="410.15" stroke="#000" stroke-width="1.6"/>
<text x="171.7" y="414.25" font-size="11.8" text-anchor="end">2</text>
<line x1="173.7" y1="384.05" x2="178.7" y2="384.05" stroke="#000" stroke-width="1.6"/>
<text x="171.7" y="388.15000000000003" font-size="11.8" text-anchor="end">4</text>
<line x1="173.7" y1="357.95" x2="178.7" y2="357.95" stroke="#000" stroke-width="1.6"/>
<text x="171.7" y="362.05" font-size="11.8" text-anchor="end">6</text>
<line x1="173.7" y1="331.85" x2="178.7" y2="331.85" stroke="#000" stroke-width="1.6"/>
<text x="171.7" y="335.95000000000005" font-size="11.8" text-anchor="end">8</text>
<line x1="197.2" y1="436.25" x2="197.2" y2="440.25" stroke="#000" stroke-width="1.6"/>
<line x1="217.3" y1="436.25" x2="217.3" y2="440.25" stroke="#000" stroke-width="1.6"/>
<line x1="237.6" y1="436.25" x2="237.6" y2="440.25" stroke="#000" stroke-width="1.6"/>
<line x1="255.4" y1="436.25" x2="255.4" y2="440.25" stroke="#000" stroke-width="1.6"/>
<rect x="181" y="434.2" width="11.199999999999989" height="2.0500000000000114" fill="#000"/>
<line x1="186.6" y1="430.5" x2="186.6" y2="434.2" stroke="#000" stroke-width="1.6"/>
<line x1="182.6" y1="430.5" x2="190.6" y2="430.5" stroke="#000" stroke-width="1.6"/>
<rect x="200.2" y="382" width="12.700000000000017" height="54.25" fill="#000"/>
<line x1="206.55" y1="371" x2="206.55" y2="382" stroke="#000" stroke-width="1.6"/>
<line x1="202.55" y1="371" x2="210.55" y2="371" stroke="#000" stroke-width="1.6"/>
<rect x="220.3" y="375" width="12.699999999999989" height="61.25" fill="#000"/>
<line x1="226.65" y1="362" x2="226.65" y2="375" stroke="#000" stroke-width="1.6"/>
<line x1="222.65" y1="362" x2="230.65" y2="362" stroke="#000" stroke-width="1.6"/>
<rect x="240.5" y="368" width="13.5" height="68.25" fill="#000"/>
<line x1="247.25" y1="357" x2="247.25" y2="368" stroke="#000" stroke-width="1.6"/>
<line x1="243.25" y1="357" x2="251.25" y2="357" stroke="#000" stroke-width="1.6"/>
<rect x="180" y="442" width="13.5" height="13" fill="#000"/>
<rect x="200.3" y="442" width="13.5" height="13" fill="#000"/>
<rect x="202.60000000000002" y="444.3" width="8.9" height="8.4" fill="#e61c2a"/>
<rect x="220.1" y="442" width="13.5" height="13" fill="#000"/>
<rect x="222.4" y="444.3" width="8.9" height="8.4" fill="#a844e6"/>
<rect x="240.4" y="442" width="13.5" height="13" fill="#000"/>
<rect x="242.70000000000002" y="444.3" width="8.9" height="8.4" fill="#2b5fe0"/>
<line x1="205" y1="337.4" x2="249.5" y2="337.4" stroke="#000" stroke-width="2"/>
<text x="229" y="335" font-size="8.8" text-anchor="middle" textLength="17.5" lengthAdjust="spacing">n.s.</text>
<line x1="204.5" y1="358.4" x2="226.25" y2="358.4" stroke="#000" stroke-width="2"/>
<text x="216.5" y="355" font-size="8.8" text-anchor="middle" textLength="17.5" lengthAdjust="spacing">n.s.</text>
<line x1="227.5" y1="352.3" x2="249.5" y2="352.3" stroke="#000" stroke-width="2"/>
<text x="238.8" y="348.6" font-size="8.8" text-anchor="middle" textLength="17.5" lengthAdjust="spacing">n.s.</text>
<text transform="translate(160.6,386.3) rotate(-90)" font-size="12" text-anchor="middle" textLength="101" lengthAdjust="spacingAndGlyphs">histological score</text>
<text x="172.5" y="466" font-size="12" textLength="91" lengthAdjust="spacingAndGlyphs">treatment group</text>
<text x="341.25" y="314" font-size="12" textLength="26.8" lengthAdjust="spacingAndGlyphs">skin</text>
<line x1="317.5" y1="331.2" x2="317.5" y2="440.05" stroke="#000" stroke-width="2"/>
<line x1="316.5" y1="436.25" x2="395.2" y2="436.25" stroke="#000" stroke-width="2"/>
<line x1="312.5" y1="436.25" x2="317.5" y2="436.25" stroke="#000" stroke-width="1.6"/>
<text x="310.5" y="440.35" font-size="11.8" text-anchor="end">0</text>
<line x1="312.5" y1="415.4" x2="317.5" y2="415.4" stroke="#000" stroke-width="1.6"/>
<text x="310.5" y="419.5" font-size="11.8" text-anchor="end">1</text>
<line x1="312.5" y1="394.55" x2="317.5" y2="394.55" stroke="#000" stroke-width="1.6"/>
<text x="310.5" y="398.65000000000003" font-size="11.8" text-anchor="end">2</text>
<line x1="312.5" y1="373.7" x2="317.5" y2="373.7" stroke="#000" stroke-width="1.6"/>
<text x="310.5" y="377.8" font-size="11.8" text-anchor="end">3</text>
<line x1="312.5" y1="352.85" x2="317.5" y2="352.85" stroke="#000" stroke-width="1.6"/>
<text x="310.5" y="356.95000000000005" font-size="11.8" text-anchor="end">4</text>
<line x1="312.5" y1="332.0" x2="317.5" y2="332.0" stroke="#000" stroke-width="1.6"/>
<text x="310.5" y="336.1" font-size="11.8" text-anchor="end">5</text>
<line x1="335.5" y1="436.25" x2="335.5" y2="440.25" stroke="#000" stroke-width="1.6"/>
<line x1="356" y1="436.25" x2="356" y2="440.25" stroke="#000" stroke-width="1.6"/>
<line x1="376" y1="436.25" x2="376" y2="440.25" stroke="#000" stroke-width="1.6"/>
<line x1="394" y1="436.25" x2="394" y2="440.25" stroke="#000" stroke-width="1.6"/>
<rect x="318.75" y="433" width="12.5" height="3.25" fill="#000"/>
<line x1="325.0" y1="427" x2="325.0" y2="433" stroke="#000" stroke-width="1.6"/>
<line x1="321.0" y1="427" x2="329.0" y2="427" stroke="#000" stroke-width="1.6"/>
<rect x="339.5" y="372.5" width="12.100000000000023" height="63.75" fill="#000"/>
<line x1="345.55" y1="345.5" x2="345.55" y2="372.5" stroke="#000" stroke-width="1.6"/>
<line x1="341.55" y1="345.5" x2="349.55" y2="345.5" stroke="#000" stroke-width="1.6"/>
<rect x="360" y="405" width="12.199999999999989" height="31.25" fill="#000"/>
<line x1="366.1" y1="381.5" x2="366.1" y2="405" stroke="#000" stroke-width="1.6"/>
<line x1="362.1" y1="381.5" x2="370.1" y2="381.5" stroke="#000" stroke-width="1.6"/>
<rect x="380" y="405.75" width="12.199999999999989" height="30.5" fill="#000"/>
<line x1="386.1" y1="379.5" x2="386.1" y2="405.75" stroke="#000" stroke-width="1.6"/>
<line x1="382.1" y1="379.5" x2="390.1" y2="379.5" stroke="#000" stroke-width="1.6"/>
<rect x="318.6" y="442" width="13.5" height="13" fill="#000"/>
<rect x="338.8" y="442" width="13.5" height="13" fill="#000"/>
<rect x="341.1" y="444.3" width="8.9" height="8.4" fill="#e61c2a"/>
<rect x="358.5" y="442" width="13.5" height="13" fill="#000"/>
<rect x="360.8" y="444.3" width="8.9" height="8.4" fill="#a844e6"/>
<rect x="377.6" y="442" width="13.5" height="13" fill="#000"/>
<rect x="379.90000000000003" y="444.3" width="8.9" height="8.4" fill="#2b5fe0"/>
<line x1="344.5" y1="331.25" x2="388.75" y2="331.25" stroke="#000" stroke-width="2"/>
<text x="367.5" y="331" font-size="13" text-anchor="middle">*</text>
<line x1="344.5" y1="342.5" x2="366.25" y2="342.5" stroke="#000" stroke-width="2"/>
<text x="355" y="344.5" font-size="13" text-anchor="middle">*</text>
<line x1="366.25" y1="372" x2="387.5" y2="372" stroke="#000" stroke-width="2"/>
<text x="375.5" y="370" font-size="8.8" text-anchor="middle" textLength="17" lengthAdjust="spacing">n.s.</text>
<text transform="translate(298.2,386.3) rotate(-90)" font-size="12" text-anchor="middle" textLength="101" lengthAdjust="spacingAndGlyphs">histological score</text>
<text x="311.25" y="466" font-size="12" textLength="91.5" lengthAdjust="spacingAndGlyphs">treatment group</text>
<rect x="37.9" y="485" width="14" height="13.6" fill="#000"/>
<rect x="37.9" y="500.3" width="14" height="13.6" fill="#000"/>
<rect x="40.199999999999996" y="502.6" width="9.4" height="9.0" fill="#e61c2a"/>
<rect x="37.9" y="515.5" width="14" height="13.6" fill="#000"/>
<rect x="40.199999999999996" y="517.8" width="9.4" height="9.0" fill="#a844e6"/>
<rect x="37.9" y="530.8" width="14" height="13.6" fill="#000"/>
<rect x="40.199999999999996" y="533.0999999999999" width="9.4" height="9.0" fill="#2b5fe0"/>
<text x="55.4" y="497" font-size="12" textLength="64.5" lengthAdjust="spacingAndGlyphs">TCD-BM (9)</text>
<text x="55.4" y="511.6" font-size="12" textLength="101.5" lengthAdjust="spacingAndGlyphs">TCD-BM + SC (10)</text>
<text x="55.4" y="526.8" font-size="12" textLength="204" lengthAdjust="spacingAndGlyphs">TCD-BM + SC + 1x10<tspan font-size="7" dy="-4">7</tspan><tspan dy="4"> </tspan>WT MDSC (9)</text>
<text x="55.4" y="541.6" font-size="12" textLength="200" lengthAdjust="spacingAndGlyphs">TCD-BM + SC + 1x10<tspan font-size="7" dy="-4">7</tspan><tspan dy="4"> </tspan>Cl I<tspan font-size="7" dy="-4">-/-</tspan><tspan dy="4"> </tspan>MDSC (8)</text>
<text class="pl" x="0.6" y="583.5" font-size="19.3" textLength="14.4" lengthAdjust="spacingAndGlyphs">D</text>
<text x="83.75" y="580.6" font-size="12" textLength="36.3" lengthAdjust="spacingAndGlyphs">+ JM6</text>
<line x1="40.25" y1="594.3" x2="40.25" y2="736" stroke="#000" stroke-width="2"/>
<line x1="39.25" y1="735" x2="180" y2="735" stroke="#000" stroke-width="2"/>
<line x1="40.25" y1="595.3" x2="180" y2="595.3" stroke="#000" stroke-width="2"/>
<line x1="179" y1="595.3" x2="179" y2="735" stroke="#000" stroke-width="2"/>
<line x1="36" y1="735.0" x2="40.25" y2="735.0" stroke="#000" stroke-width="1.6"/>
<text x="34.3" y="739.1" font-size="11.8" text-anchor="end">0.0</text>
<line x1="36" y1="709.6" x2="40.25" y2="709.6" stroke="#000" stroke-width="1.6"/>
<text x="34.3" y="713.7" font-size="11.8" text-anchor="end">0.2</text>
<line x1="36" y1="684.2" x2="40.25" y2="684.2" stroke="#000" stroke-width="1.6"/>
<text x="34.3" y="688.3000000000001" font-size="11.8" text-anchor="end">0.4</text>
<line x1="36" y1="658.8" x2="40.25" y2="658.8" stroke="#000" stroke-width="1.6"/>
<text x="34.3" y="662.9" font-size="11.8" text-anchor="end">0.6</text>
<line x1="36" y1="633.4" x2="40.25" y2="633.4" stroke="#000" stroke-width="1.6"/>
<text x="34.3" y="637.5" font-size="11.8" text-anchor="end">0.8</text>
<line x1="36" y1="608.0" x2="40.25" y2="608.0" stroke="#000" stroke-width="1.6"/>
<text x="34.3" y="612.1" font-size="11.8" text-anchor="end">1.0</text>
<line x1="41.3" y1="735" x2="41.3" y2="739.8" stroke="#000" stroke-width="1.6"/>
<text x="40.699999999999996" y="754" font-size="11.8" text-anchor="middle">0</text>
<line x1="64.3" y1="735" x2="64.3" y2="739.8" stroke="#000" stroke-width="1.6"/>
<text x="64.8" y="754" font-size="11.8" text-anchor="middle">10</text>
<line x1="87.3" y1="735" x2="87.3" y2="739.8" stroke="#000" stroke-width="1.6"/>
<text x="87.8" y="754" font-size="11.8" text-anchor="middle">20</text>
<line x1="110.3" y1="735" x2="110.3" y2="739.8" stroke="#000" stroke-width="1.6"/>
<text x="110.8" y="754" font-size="11.8" text-anchor="middle">30</text>
<line x1="133.3" y1="735" x2="133.3" y2="739.8" stroke="#000" stroke-width="1.6"/>
<text x="133.8" y="754" font-size="11.8" text-anchor="middle">40</text>
<line x1="156.29999999999998" y1="735" x2="156.29999999999998" y2="739.8" stroke="#000" stroke-width="1.6"/>
<text x="156.79999999999998" y="754" font-size="11.8" text-anchor="middle">50</text>
<line x1="179.3" y1="735" x2="179.3" y2="739.8" stroke="#000" stroke-width="1.6"/>
<text x="179.8" y="754" font-size="11.8" text-anchor="middle">60</text>
<text transform="translate(12,672) rotate(-90)" font-size="12" text-anchor="middle" textLength="44" lengthAdjust="spacingAndGlyphs">survival</text>
<text x="101.25" y="766.8" font-size="12" textLength="41.5" lengthAdjust="spacingAndGlyphs">time (d)</text>
<polyline points="87.00,607.00 87.00,650.50 90.50,650.50 90.50,664.50 93.00,664.50 93.00,693.00 96.25,693.00 96.25,735.00" fill="none" stroke="#000" stroke-width="3.6"/>
<polyline points="105.80,607.00 105.80,633.00 121.50,633.00 121.50,646.00 128.50,646.00 128.50,659.00 137.50,659.00 137.50,684.50 145.00,684.50 145.00,697.00 180.00,697.00" fill="none" stroke="#ee2c1a" stroke-width="3.6"/>
<polyline points="41.30,608.00 156.25,608.00 156.25,621.25 180.00,621.25" fill="none" stroke="#2b5fe0" stroke-width="3.6"/>
<line x1="39.5" y1="783.75" x2="57" y2="783.75" stroke="#000" stroke-width="4"/>
<line x1="39.5" y1="798.75" x2="57" y2="798.75" stroke="#ee2c1a" stroke-width="4"/>
<line x1="39.5" y1="813.75" x2="57" y2="813.75" stroke="#2b5fe0" stroke-width="4"/>
<text x="66.25" y="788.35" font-size="12" textLength="46.3" lengthAdjust="spacingAndGlyphs">TCD-BM</text>
<text x="119.5" y="788.35" font-size="12" textLength="24.5" lengthAdjust="spacingAndGlyphs">(0/9)</text>
<text x="66.25" y="803.35" font-size="12" textLength="75" lengthAdjust="spacingAndGlyphs">TCD-BM + SC</text>
<text x="149.5" y="803.35" font-size="12" textLength="31.5" lengthAdjust="spacingAndGlyphs">(3/10)</text>
<text x="66.25" y="818.35" font-size="12" textLength="197.5" lengthAdjust="spacingAndGlyphs">TCD-BM + SC + 1x10<tspan font-size="7" dy="-4">7</tspan><tspan dy="4" font-size="4"> </tspan>MDSC (8/9)***</text>
<text class="pl" x="242.6" y="587.7" font-size="19.3" textLength="12.4" lengthAdjust="spacingAndGlyphs">E</text>
<text x="326.25" y="588" font-size="12" textLength="38.2" lengthAdjust="spacingAndGlyphs">spleen</text>
<line x1="316.2" y1="612.95" x2="316.2" y2="722.3" stroke="#000" stroke-width="2"/>
<line x1="315.2" y1="718.5" x2="379.7" y2="718.5" stroke="#000" stroke-width="2"/>
<line x1="311.2" y1="718.5" x2="316.2" y2="718.5" stroke="#000" stroke-width="1.6"/>
<text x="310.3" y="722.6" font-size="11.8" text-anchor="end">0.0</text>
<line x1="311.2" y1="701.04" x2="316.2" y2="701.04" stroke="#000" stroke-width="1.6"/>
<text x="310.3" y="705.14" font-size="11.8" text-anchor="end">0.1</text>
<line x1="311.2" y1="683.58" x2="316.2" y2="683.58" stroke="#000" stroke-width="1.6"/>
<text x="310.3" y="687.6800000000001" font-size="11.8" text-anchor="end">0.2</text>
<line x1="311.2" y1="666.12" x2="316.2" y2="666.12" stroke="#000" stroke-width="1.6"/>
<text x="310.3" y="670.22" font-size="11.8" text-anchor="end">0.3</text>
<line x1="311.2" y1="648.66" x2="316.2" y2="648.66" stroke="#000" stroke-width="1.6"/>
<text x="310.3" y="652.76" font-size="11.8" text-anchor="end">0.4</text>
<line x1="311.2" y1="631.2" x2="316.2" y2="631.2" stroke="#000" stroke-width="1.6"/>
<text x="310.3" y="635.3000000000001" font-size="11.8" text-anchor="end">0.5</text>
<line x1="311.2" y1="613.74" x2="316.2" y2="613.74" stroke="#000" stroke-width="1.6"/>
<text x="310.3" y="617.84" font-size="11.8" text-anchor="end">0.6</text>
<line x1="337.4" y1="718.5" x2="337.4" y2="722.5" stroke="#000" stroke-width="1.6"/>
<line x1="358" y1="718.5" x2="358" y2="722.5" stroke="#000" stroke-width="1.6"/>
<line x1="378.7" y1="718.5" x2="378.7" y2="722.5" stroke="#000" stroke-width="1.6"/>
<rect x="318.4" y="658.3" width="16.200000000000045" height="60.200000000000045" fill="#000"/>
<line x1="326.5" y1="630.75" x2="326.5" y2="658.3" stroke="#000" stroke-width="1.6"/>
<line x1="322.2" y1="630.75" x2="330.8" y2="630.75" stroke="#000" stroke-width="1.6"/>
<rect x="339.4" y="709" width="15.5" height="9.5" fill="#000"/>
<line x1="347.15" y1="707.5" x2="347.15" y2="709" stroke="#000" stroke-width="1.6"/>
<line x1="342.84999999999997" y1="707.5" x2="351.45" y2="707.5" stroke="#000" stroke-width="1.6"/>
<rect x="360.2" y="703.5" width="15.600000000000023" height="15.0" fill="#000"/>
<line x1="368.0" y1="699.7" x2="368.0" y2="703.5" stroke="#000" stroke-width="1.6"/>
<line x1="363.7" y1="699.7" x2="372.3" y2="699.7" stroke="#000" stroke-width="1.6"/>
<rect x="319.1" y="723" width="14.8" height="13.7" fill="#000"/>
<rect x="339.8" y="723" width="14.8" height="13.7" fill="#000"/>
<rect x="342.1" y="725.3" width="10.200000000000001" height="9.1" fill="#e61c2a"/>
<rect x="360.3" y="723" width="14.8" height="13.7" fill="#000"/>
<rect x="362.6" y="725.3" width="10.200000000000001" height="9.1" fill="#2b5fe0"/>
<line x1="327.8" y1="614.7" x2="370" y2="614.7" stroke="#000" stroke-width="2"/>
<text x="348.8" y="615.3" font-size="13.5" text-anchor="middle" textLength="18.6" lengthAdjust="spacingAndGlyphs">***</text>
<line x1="327.8" y1="626.3" x2="348.6" y2="626.3" stroke="#000" stroke-width="2"/>
<text x="338.1" y="627.2" font-size="13.5" text-anchor="middle" textLength="17.4" lengthAdjust="spacingAndGlyphs">***</text>
<text transform="translate(288.8,659) rotate(-90)" font-size="12" text-anchor="middle" textLength="95" lengthAdjust="spacingAndGlyphs">spleen weight [g]</text>
<text x="347.5" y="749.8" font-size="12" text-anchor="middle" textLength="54.5" lengthAdjust="spacingAndGlyphs">treatment</text>
<text x="347.5" y="764.4" font-size="12" text-anchor="middle" textLength="33" lengthAdjust="spacingAndGlyphs">group</text>
<text x="440" y="588" font-size="12" textLength="28" lengthAdjust="spacingAndGlyphs">liver</text>
<line x1="423.7" y1="612.95" x2="423.7" y2="722.3" stroke="#000" stroke-width="2"/>
<line x1="422.7" y1="718.5" x2="486.5" y2="718.5" stroke="#000" stroke-width="2"/>
<line x1="418.7" y1="718.5" x2="423.7" y2="718.5" stroke="#000" stroke-width="1.6"/>
<text x="418.09999999999997" y="722.6" font-size="11.8" text-anchor="end">0</text>
<line x1="418.7" y1="692.3" x2="423.7" y2="692.3" stroke="#000" stroke-width="1.6"/>
<text x="418.09999999999997" y="696.4" font-size="11.8" text-anchor="end">1</text>
<line x1="418.7" y1="666.1" x2="423.7" y2="666.1" stroke="#000" stroke-width="1.6"/>
<text x="418.09999999999997" y="670.2" font-size="11.8" text-anchor="end">2</text>
<line x1="418.7" y1="639.9" x2="423.7" y2="639.9" stroke="#000" stroke-width="1.6"/>
<text x="418.09999999999997" y="644.0" font-size="11.8" text-anchor="end">3</text>
<line x1="418.7" y1="613.7" x2="423.7" y2="613.7" stroke="#000" stroke-width="1.6"/>
<text x="418.09999999999997" y="617.8000000000001" font-size="11.8" text-anchor="end">4</text>
<line x1="443.8" y1="718.5" x2="443.8" y2="722.5" stroke="#000" stroke-width="1.6"/>
<line x1="464.4" y1="718.5" x2="464.4" y2="722.5" stroke="#000" stroke-width="1.6"/>
<line x1="485.4" y1="718.5" x2="485.4" y2="722.5" stroke="#000" stroke-width="1.6"/>
<rect x="426" y="656.3" width="15.5" height="62.200000000000045" fill="#000"/>
<line x1="433.75" y1="637" x2="433.75" y2="656.3" stroke="#000" stroke-width="1.6"/>
<line x1="429.45" y1="637" x2="438.05" y2="637" stroke="#000" stroke-width="1.6"/>
<rect x="446.2" y="694.6" width="15.600000000000023" height="23.899999999999977" fill="#000"/>
<line x1="454.0" y1="689.5" x2="454.0" y2="694.6" stroke="#000" stroke-width="1.6"/>
<line x1="449.7" y1="689.5" x2="458.3" y2="689.5" stroke="#000" stroke-width="1.6"/>
<rect x="467.1" y="691" width="15.599999999999966" height="27.5" fill="#000"/>
<line x1="474.9" y1="688.9" x2="474.9" y2="691" stroke="#000" stroke-width="1.6"/>
<line x1="470.59999999999997" y1="688.9" x2="479.2" y2="688.9" stroke="#000" stroke-width="1.6"/>
<rect x="425.9" y="723" width="14.8" height="13.7" fill="#000"/>
<rect x="447.2" y="723" width="14.8" height="13.7" fill="#000"/>
<rect x="449.5" y="725.3" width="10.200000000000001" height="9.1" fill="#e61c2a"/>
<rect x="467.6" y="723" width="14.8" height="13.7" fill="#000"/>
<rect x="469.90000000000003" y="725.3" width="10.200000000000001" height="9.1" fill="#2b5fe0"/>
<line x1="433.5" y1="620.9" x2="475.4" y2="620.9" stroke="#000" stroke-width="2"/>
<text x="454.7" y="620.6" font-size="13.5" text-anchor="middle" textLength="18.8" lengthAdjust="spacingAndGlyphs">***</text>
<line x1="433.5" y1="632.8" x2="455" y2="632.8" stroke="#000" stroke-width="2"/>
<text x="444" y="633.2" font-size="13.5" text-anchor="middle" textLength="18.2" lengthAdjust="spacingAndGlyphs">***</text>
<text transform="translate(404.6,664) rotate(-90)" font-size="12" text-anchor="middle" textLength="85" lengthAdjust="spacingAndGlyphs">liver weight [g]</text>
<text x="454.4" y="749.8" font-size="12" text-anchor="middle" textLength="54" lengthAdjust="spacingAndGlyphs">treatment</text>
<text x="454.7" y="764.4" font-size="12" text-anchor="middle" textLength="33" lengthAdjust="spacingAndGlyphs">group</text>
<rect x="316.6" y="777.4" width="14" height="14.2" fill="#000"/>
<rect x="316.6" y="792.7" width="14" height="14.2" fill="#000"/>
<rect x="318.90000000000003" y="795.0" width="9.4" height="9.6" fill="#e61c2a"/>
<rect x="316.6" y="808.5" width="14" height="14.2" fill="#000"/>
<rect x="318.90000000000003" y="810.8" width="9.4" height="9.6" fill="#2b5fe0"/>
<text x="333.2" y="790" font-size="12" textLength="64.5" lengthAdjust="spacingAndGlyphs">TCD-BM (9)</text>
<text x="333.2" y="805" font-size="12" textLength="101.5" lengthAdjust="spacingAndGlyphs">TCD-BM + SC (10)</text>
<text x="333.2" y="820" font-size="12" textLength="175.5" lengthAdjust="spacingAndGlyphs">TCD-BM + SC + 1x10<tspan font-size="7" dy="-4">7</tspan><tspan dy="4" font-size="4"> </tspan>MDSC (9)</text>
<text class="pl" x="-0.4" y="864.7" font-size="19.3" textLength="12.6" lengthAdjust="spacingAndGlyphs">F</text>
<text x="90.5" y="858.6" font-size="12" textLength="25.8" lengthAdjust="spacingAndGlyphs">JM6</text>
<text x="168.5" y="858.6" font-size="12" textLength="60.5" lengthAdjust="spacingAndGlyphs">untreated</text>
<text x="289.3" y="858.4" font-size="12" text-anchor="middle" textLength="52.3" lengthAdjust="spacingAndGlyphs">TCD-BM</text>
<text x="289.7" y="875" font-size="12" text-anchor="middle" textLength="37.4" lengthAdjust="spacingAndGlyphs">+ JM6</text>
<text x="385.5" y="858.4" font-size="12" text-anchor="middle" textLength="64" lengthAdjust="spacingAndGlyphs">TCD-BM +</text>
<text x="385.8" y="875" font-size="12" text-anchor="middle" textLength="60.4" lengthAdjust="spacingAndGlyphs">SC + JM6</text>
<text x="473.8" y="858.4" font-size="12" text-anchor="middle" textLength="64" lengthAdjust="spacingAndGlyphs">TCD-BM +</text>
<text x="474.2" y="875" font-size="12" text-anchor="middle" textLength="73.5" lengthAdjust="spacingAndGlyphs">SC + MDSC</text>
<text x="474.7" y="891.8" font-size="12" text-anchor="middle" textLength="37.4" lengthAdjust="spacingAndGlyphs">+ JM6</text>
<text x="0" y="906.2" font-size="12" textLength="31.5" lengthAdjust="spacingAndGlyphs">bone</text>
<text x="0" y="922.9" font-size="12" textLength="47.5" lengthAdjust="spacingAndGlyphs">marrow</text>
<text x="0" y="997.4" font-size="12" textLength="26.3" lengthAdjust="spacingAndGlyphs">liver</text>
<text x="0" y="1090.4" font-size="12" textLength="42.5" lengthAdjust="spacingAndGlyphs">spleen</text>
<line x1="52.8" y1="894.3" x2="52.8" y2="1172.3" stroke="#000" stroke-width="1.6"/>
<line x1="52.1" y1="1171.5" x2="514.5" y2="1171.5" stroke="#000" stroke-width="1.6"/>
<text transform="translate(45.2,1154.5) rotate(-90)" font-size="11" text-anchor="middle" textLength="21.5" lengthAdjust="spacingAndGlyphs">CD8</text>
<text x="60.5" y="1185" font-size="11" textLength="22" lengthAdjust="spacingAndGlyphs">CD4</text>
<clipPath id="call"><rect x="72.4" y="897.2" width="71.1" height="71.1"/><rect x="163.7" y="897.2" width="70.5" height="71.1"/><rect x="257" y="897.2" width="70.6" height="71.1"/><rect x="350" y="897.2" width="70.5" height="71.1"/><rect x="441.5" y="897.2" width="71.4" height="71.1"/><rect x="163.7" y="989.3" width="70.5" height="71.1"/><rect x="257" y="989.3" width="70.6" height="71.1"/><rect x="350" y="989.3" width="70.5" height="71.1"/><rect x="441.5" y="989.3" width="71.4" height="71.1"/><rect x="163.7" y="1081.2" width="70.5" height="71.1"/><rect x="257" y="1081.2" width="70.6" height="71.1"/><rect x="350" y="1081.2" width="70.5" height="71.1"/><rect x="441.5" y="1081.2" width="71.4" height="71.1"/></clipPath>
<g clip-path="url(#call)"><g filter="url(#spk)">
<g>
<ellipse cx="98.4" cy="909.2" rx="8" ry="11" opacity="0.62"/>
<ellipse cx="94.4" cy="912.2" rx="14" ry="13" opacity="0.28"/>
<ellipse cx="89.4" cy="912.2" rx="18" ry="15" opacity="0.12"/>
<ellipse cx="97.4" cy="935.2" rx="9" ry="8" opacity="0.08"/>
</g>
<g>
<rect x="154.7" y="929.7" width="29" height="13" opacity="1.0"/>
<rect x="154.7" y="929.7" width="34" height="19" opacity="0.42"/>
<rect x="154.7" y="942.2" width="29" height="12" opacity="0.28"/>
<rect x="154.7" y="953.2" width="26" height="12" opacity="0.1"/>
<ellipse cx="206.7" cy="944.2" rx="6" ry="13" opacity="0.04"/>
</g>
<g>
<ellipse cx="274.0" cy="921.7" rx="20" ry="5.5" opacity="1.0" transform="rotate(-13 274.0 921.7)"/>
<ellipse cx="263.0" cy="924.2" rx="10" ry="6" opacity="0.8"/>
<ellipse cx="288.0" cy="917.7" rx="22" ry="3.5" opacity="0.5" transform="rotate(-13 288.0 917.7)"/>
<ellipse cx="304.0" cy="912.7" rx="7" ry="2" opacity="0.4" transform="rotate(-13 304.0 912.7)"/>
<ellipse cx="266.0" cy="934.2" rx="14" ry="8" opacity="0.5"/>
<ellipse cx="269.0" cy="941.2" rx="17" ry="14" opacity="0.25"/>
<ellipse cx="270.0" cy="954.2" rx="14" ry="10" opacity="0.06"/>
</g>
<g>
<rect x="341.0" y="929.2" width="33" height="14" opacity="1.0"/>
<rect x="341.0" y="929.2" width="37" height="18" opacity="0.33"/>
<rect x="341.0" y="942.2" width="30" height="12" opacity="0.22"/>
<rect x="341.0" y="953.2" width="28" height="14" opacity="0.08"/>
<ellipse cx="367.0" cy="909.2" rx="11" ry="4" opacity="0.14"/>
<ellipse cx="397.0" cy="938.2" rx="6" ry="12" opacity="0.03"/>
</g>
<g>
<rect x="432.5" y="929.2" width="28" height="13" opacity="1.0"/>
<rect x="432.5" y="929.2" width="34" height="19" opacity="0.35"/>
<rect x="432.5" y="943.2" width="27" height="12" opacity="0.22"/>
<rect x="432.5" y="954.2" width="25" height="14" opacity="0.08"/>
<ellipse cx="452.5" cy="909.2" rx="11" ry="4" opacity="0.2"/>
<ellipse cx="488.5" cy="936.2" rx="3.3" ry="8" opacity="0.32"/>
<ellipse cx="488.5" cy="951.2" rx="3" ry="12" opacity="0.1"/>
</g>
<g>
<rect x="154.7" y="1021.3" width="29" height="12" opacity="1.0"/>
<rect x="154.7" y="1021.3" width="35" height="18" opacity="0.38"/>
<rect x="154.7" y="1033.3" width="27" height="12" opacity="0.22"/>
<rect x="154.7" y="1045.3" width="25" height="14" opacity="0.06"/>
<ellipse cx="174.7" cy="1005.3" rx="12" ry="4.8" opacity="0.5"/>
<ellipse cx="207.7" cy="1030.3" rx="4.8" ry="8" opacity="0.5"/>
<ellipse cx="206.7" cy="1046.3" rx="3.5" ry="12" opacity="0.15"/>
</g>
<g>
<ellipse cx="281.0" cy="1017.3" rx="9" ry="6" opacity="1.0" transform="rotate(-20 281.0 1017.3)"/>
<ellipse cx="276.0" cy="1018.8" rx="20" ry="8.5" opacity="0.5" transform="rotate(-17 276.0 1018.8)"/>
<ellipse cx="274.0" cy="1016.3" rx="22" ry="16" opacity="0.22"/>
<ellipse cx="300.0" cy="1008.3" rx="10" ry="3.5" opacity="0.25" transform="rotate(-17 300.0 1008.3)"/>
<ellipse cx="268.0" cy="1030.3" rx="16" ry="10" opacity="0.3"/>
<ellipse cx="271.0" cy="1036.3" rx="19" ry="15" opacity="0.18"/>
<ellipse cx="271.0" cy="1047.3" rx="15" ry="10" opacity="0.05"/>
<ellipse cx="304.0" cy="1030.3" rx="5" ry="10" opacity="0.05"/>
</g>
<g>
<ellipse cx="361.0" cy="1006.3" rx="14" ry="4.8" opacity="0.6"/>
<rect x="341.0" y="1021.3" width="30" height="10" opacity="1.0"/>
<rect x="341.0" y="1021.3" width="37" height="15" opacity="0.42"/>
<rect x="341.0" y="1032.3" width="31" height="13" opacity="0.25"/>
<rect x="341.0" y="1044.3" width="27" height="15" opacity="0.08"/>
<ellipse cx="396.0" cy="1027.3" rx="4.6" ry="8" opacity="0.95"/>
<ellipse cx="396.0" cy="1043.3" rx="3.5" ry="14" opacity="0.3"/>
<ellipse cx="396.0" cy="1005.3" rx="2.5" ry="4" opacity="0.15"/>
</g>
<g>
<ellipse cx="450.5" cy="1006.3" rx="13" ry="5.2" opacity="0.65"/>
<rect x="432.5" y="1021.3" width="30" height="11" opacity="0.95"/>
<rect x="432.5" y="1021.3" width="39" height="17" opacity="0.4"/>
<rect x="432.5" y="1033.3" width="31" height="13" opacity="0.22"/>
<rect x="432.5" y="1044.3" width="27" height="15" opacity="0.07"/>
<ellipse cx="486.5" cy="1027.3" rx="4.6" ry="8.5" opacity="1.0"/>
<ellipse cx="486.5" cy="1043.3" rx="3.5" ry="14" opacity="0.3"/>
<ellipse cx="486.5" cy="1006.3" rx="3" ry="4" opacity="0.3"/>
</g>
<g>
<ellipse cx="172.7" cy="1099.2" rx="12" ry="5.2" opacity="0.62"/>
<rect x="154.7" y="1113.2" width="28" height="14" opacity="1.0"/>
<rect x="154.7" y="1113.2" width="35" height="19" opacity="0.38"/>
<rect x="154.7" y="1127.2" width="26" height="10" opacity="0.22"/>
<rect x="154.7" y="1137.2" width="24" height="14" opacity="0.06"/>
<ellipse cx="205.7" cy="1120.2" rx="5.5" ry="7.5" opacity="0.42"/>
<ellipse cx="205.7" cy="1135.2" rx="4" ry="10" opacity="0.15"/>
</g>
<g>
<ellipse cx="286.0" cy="1099.2" rx="15" ry="5.5" opacity="0.9" transform="rotate(-16 286.0 1099.2)"/>
<ellipse cx="278.0" cy="1103.2" rx="22" ry="7" opacity="0.4" transform="rotate(-18 278.0 1103.2)"/>
<ellipse cx="270.0" cy="1109.2" rx="15" ry="11" opacity="0.3"/>
<ellipse cx="306.5" cy="1092.5" rx="4" ry="2.5" opacity="1.0"/>
<ellipse cx="300.0" cy="1094.2" rx="6" ry="2.5" opacity="0.6" transform="rotate(-12 300.0 1094.2)"/>
<ellipse cx="265.0" cy="1119.7" rx="11" ry="6.5" opacity="1.0"/>
<ellipse cx="267.0" cy="1122.2" rx="18" ry="11" opacity="0.38"/>
<ellipse cx="269.0" cy="1128.2" rx="19" ry="14" opacity="0.16"/>
<ellipse cx="302.5" cy="1118.2" rx="3.5" ry="6" opacity="0.25"/>
<ellipse cx="302.5" cy="1132.2" rx="3" ry="10" opacity="0.08"/>
</g>
<g>
<ellipse cx="360.0" cy="1098.2" rx="13" ry="4.2" opacity="0.65"/>
<rect x="341.0" y="1113.2" width="33" height="13" opacity="1.0"/>
<rect x="341.0" y="1113.2" width="39" height="18" opacity="0.4"/>
<rect x="341.0" y="1126.2" width="30" height="12" opacity="0.27"/>
<rect x="341.0" y="1137.2" width="27" height="14" opacity="0.1"/>
<ellipse cx="395.0" cy="1120.2" rx="4.4" ry="8.5" opacity="0.95"/>
<ellipse cx="395.0" cy="1137.2" rx="3.3" ry="12" opacity="0.25"/>
</g>
<g>
<ellipse cx="450.5" cy="1099.2" rx="11.5" ry="4.2" opacity="0.72"/>
<rect x="432.5" y="1113.2" width="30" height="12" opacity="1.0"/>
<rect x="432.5" y="1113.2" width="37" height="18" opacity="0.4"/>
<rect x="432.5" y="1126.2" width="29" height="12" opacity="0.27"/>
<rect x="432.5" y="1137.2" width="26" height="14" opacity="0.1"/>
<ellipse cx="485.5" cy="1118.7" rx="4.2" ry="8" opacity="1.0"/>
<ellipse cx="485.5" cy="1135.2" rx="3.3" ry="14" opacity="0.3"/>
</g>
</g></g>
<rect x="71.4" y="896.2" width="73.1" height="73.1" fill="none" stroke="#000" stroke-width="2"/>
<line x1="108.9" y1="896.2" x2="108.9" y2="969.3000000000001" stroke="#000" stroke-width="1.4"/>
<line x1="71.4" y1="928.5" x2="144.5" y2="928.5" stroke="#000" stroke-width="1.4"/>
<text x="73.7" y="906.2" font-size="9">91</text>
<text x="142.3" y="906.2" font-size="9" text-anchor="end">0</text>
<text x="73.7" y="967.5000000000001" font-size="9">9</text>
<text x="142.3" y="967.5000000000001" font-size="9" text-anchor="end">0</text>
<text x="69.0" y="905.6" font-size="6.3" text-anchor="end" class="tk">10<tspan font-size="4.2" dy="-2.5">5</tspan><tspan dy="2.5" font-size="1"> </tspan></text>
<text x="69.0" y="921.7" font-size="6.3" text-anchor="end" class="tk">10<tspan font-size="4.2" dy="-2.5">4</tspan><tspan dy="2.5" font-size="1"> </tspan></text>
<text x="69.0" y="939.4000000000001" font-size="6.3" text-anchor="end" class="tk">10<tspan font-size="4.2" dy="-2.5">3</tspan><tspan dy="2.5" font-size="1"> </tspan></text>
<text x="69.0" y="956.6" font-size="6.3" text-anchor="end" class="tk">10<tspan font-size="4.2" dy="-2.5">2</tspan><tspan dy="2.5" font-size="1"> </tspan></text>
<text x="68.2" y="965.0" font-size="6.3" text-anchor="end" class="tk">0</text>
<text x="77.60000000000001" y="980.7" font-size="6.3" class="tk">0</text>
<text x="81.60000000000001" y="980.7" font-size="6.3" class="tk">10<tspan font-size="4.2" dy="-2.5">2</tspan><tspan dy="2.5" font-size="1"> </tspan></text>
<text x="101.4" y="980.7" font-size="6.3" class="tk">10<tspan font-size="4.2" dy="-2.5">3</tspan><tspan dy="2.5" font-size="1"> </tspan></text>
<text x="120.7" y="980.7" font-size="6.3" class="tk">10<tspan font-size="4.2" dy="-2.5">4</tspan><tspan dy="2.5" font-size="1"> </tspan></text>
<text x="133.4" y="980.7" font-size="6.3" class="tk">10<tspan font-size="4.2" dy="-2.5">5</tspan><tspan dy="2.5" font-size="1"> </tspan></text>
<path d="M70.6 914.6h-1.3M70.6 911.7h-1.3M70.6 909.7h-1.3M70.6 908.1h-1.3M70.6 906.9h-1.3M70.6 905.8h-1.3M70.6 904.9h-1.3M70.6 904.0h-1.3M70.6 931.8h-1.3M70.6 928.7h-1.3M70.6 926.4h-1.3M70.6 924.7h-1.3M70.6 923.3h-1.3M70.6 922.1h-1.3M70.6 921.1h-1.3M70.6 920.2h-1.3M70.6 949.0h-1.3M70.6 946.0h-1.3M70.6 943.9h-1.3M70.6 942.2h-1.3M70.6 940.9h-1.3M70.6 939.7h-1.3M70.6 938.7h-1.3M70.6 937.9h-1.3M91.7 970.1v1.3M95.4 970.1v1.3M98.0 970.1v1.3M100.1 970.1v1.3M101.7 970.1v1.3M103.1 970.1v1.3M104.4 970.1v1.3M105.4 970.1v1.3M112.1 970.1v1.3M115.5 970.1v1.3M117.8 970.1v1.3M119.7 970.1v1.3M121.2 970.1v1.3M122.5 970.1v1.3M123.6 970.1v1.3M124.5 970.1v1.3M129.3 970.1v1.3M131.6 970.1v1.3M133.2 970.1v1.3M134.5 970.1v1.3M135.5 970.1v1.3M136.4 970.1v1.3M137.1 970.1v1.3M137.8 970.1v1.3" stroke="#000" stroke-width=".7" fill="none"/>
<line x1="68.80000000000001" y1="903.3000000000001" x2="70.9" y2="903.3000000000001" stroke="#000" stroke-width="1"/>
<line x1="68.80000000000001" y1="919.4000000000001" x2="70.9" y2="919.4000000000001" stroke="#000" stroke-width="1"/>
<line x1="68.80000000000001" y1="937.1" x2="70.9" y2="937.1" stroke="#000" stroke-width="1"/>
<line x1="68.80000000000001" y1="954.1" x2="70.9" y2="954.1" stroke="#000" stroke-width="1"/>
<line x1="68.80000000000001" y1="962.7" x2="70.9" y2="962.7" stroke="#000" stroke-width="1"/>
<line x1="79.4" y1="969.8000000000001" x2="79.4" y2="972.1" stroke="#000" stroke-width="1"/>
<line x1="85.4" y1="969.8000000000001" x2="85.4" y2="972.1" stroke="#000" stroke-width="1"/>
<line x1="106.4" y1="969.8000000000001" x2="106.4" y2="972.1" stroke="#000" stroke-width="1"/>
<line x1="125.4" y1="969.8000000000001" x2="125.4" y2="972.1" stroke="#000" stroke-width="1"/>
<line x1="138.4" y1="969.8000000000001" x2="138.4" y2="972.1" stroke="#000" stroke-width="1"/>
<rect x="162.7" y="896.2" width="72.5" height="73.1" fill="none" stroke="#000" stroke-width="2"/>
<line x1="200.2" y1="896.2" x2="200.2" y2="969.3000000000001" stroke="#000" stroke-width="1.4"/>
<line x1="162.7" y1="928.5" x2="235.2" y2="928.5" stroke="#000" stroke-width="1.4"/>
<text x="165.0" y="908.8000000000001" font-size="12.6">1</text>
<text x="233.0" y="908.8000000000001" font-size="12.6" text-anchor="end">0</text>
<text x="165.0" y="967.5000000000001" font-size="12.6">97</text>
<text x="233.0" y="967.5000000000001" font-size="12.6" text-anchor="end">2</text>
<text x="160.29999999999998" y="905.6" font-size="6.3" text-anchor="end" class="tk">10<tspan font-size="4.2" dy="-2.5">5</tspan><tspan dy="2.5" font-size="1"> </tspan></text>
<text x="160.29999999999998" y="921.7" font-size="6.3" text-anchor="end" class="tk">10<tspan font-size="4.2" dy="-2.5">4</tspan><tspan dy="2.5" font-size="1"> </tspan></text>
<text x="160.29999999999998" y="939.4000000000001" font-size="6.3" text-anchor="end" class="tk">10<tspan font-size="4.2" dy="-2.5">3</tspan><tspan dy="2.5" font-size="1"> </tspan></text>
<text x="160.29999999999998" y="956.6" font-size="6.3" text-anchor="end" class="tk">10<tspan font-size="4.2" dy="-2.5">2</tspan><tspan dy="2.5" font-size="1"> </tspan></text>
<text x="159.5" y="965.0" font-size="6.3" text-anchor="end" class="tk">0</text>
<text x="168.89999999999998" y="980.7" font-size="6.3" class="tk">0</text>
<text x="172.89999999999998" y="980.7" font-size="6.3" class="tk">10<tspan font-size="4.2" dy="-2.5">2</tspan><tspan dy="2.5" font-size="1"> </tspan></text>
<text x="192.7" y="980.7" font-size="6.3" class="tk">10<tspan font-size="4.2" dy="-2.5">3</tspan><tspan dy="2.5" font-size="1"> </tspan></text>
<text x="212.0" y="980.7" font-size="6.3" class="tk">10<tspan font-size="4.2" dy="-2.5">4</tspan><tspan dy="2.5" font-size="1"> </tspan></text>
<text x="224.7" y="980.7" font-size="6.3" class="tk">10<tspan font-size="4.2" dy="-2.5">5</tspan><tspan dy="2.5" font-size="1"> </tspan></text>
<path d="M161.9 914.6h-1.3M161.9 911.7h-1.3M161.9 909.7h-1.3M161.9 908.1h-1.3M161.9 906.9h-1.3M161.9 905.8h-1.3M161.9 904.9h-1.3M161.9 904.0h-1.3M161.9 931.8h-1.3M161.9 928.7h-1.3M161.9 926.4h-1.3M161.9 924.7h-1.3M161.9 923.3h-1.3M161.9 922.1h-1.3M161.9 921.1h-1.3M161.9 920.2h-1.3M161.9 949.0h-1.3M161.9 946.0h-1.3M161.9 943.9h-1.3M161.9 942.2h-1.3M161.9 940.9h-1.3M161.9 939.7h-1.3M161.9 938.7h-1.3M161.9 937.9h-1.3M183.0 970.1v1.3M186.7 970.1v1.3M189.3 970.1v1.3M191.4 970.1v1.3M193.0 970.1v1.3M194.4 970.1v1.3M195.7 970.1v1.3M196.7 970.1v1.3M203.4 970.1v1.3M206.8 970.1v1.3M209.1 970.1v1.3M211.0 970.1v1.3M212.5 970.1v1.3M213.8 970.1v1.3M214.9 970.1v1.3M215.8 970.1v1.3M220.6 970.1v1.3M222.9 970.1v1.3M224.5 970.1v1.3M225.8 970.1v1.3M226.8 970.1v1.3M227.7 970.1v1.3M228.4 970.1v1.3M229.1 970.1v1.3" stroke="#000" stroke-width=".7" fill="none"/>
<line x1="160.1" y1="903.3000000000001" x2="162.2" y2="903.3000000000001" stroke="#000" stroke-width="1"/>
<line x1="160.1" y1="919.4000000000001" x2="162.2" y2="919.4000000000001" stroke="#000" stroke-width="1"/>
<line x1="160.1" y1="937.1" x2="162.2" y2="937.1" stroke="#000" stroke-width="1"/>
<line x1="160.1" y1="954.1" x2="162.2" y2="954.1" stroke="#000" stroke-width="1"/>
<line x1="160.1" y1="962.7" x2="162.2" y2="962.7" stroke="#000" stroke-width="1"/>
<line x1="170.7" y1="969.8000000000001" x2="170.7" y2="972.1" stroke="#000" stroke-width="1"/>
<line x1="176.7" y1="969.8000000000001" x2="176.7" y2="972.1" stroke="#000" stroke-width="1"/>
<line x1="197.7" y1="969.8000000000001" x2="197.7" y2="972.1" stroke="#000" stroke-width="1"/>
<line x1="216.7" y1="969.8000000000001" x2="216.7" y2="972.1" stroke="#000" stroke-width="1"/>
<line x1="229.7" y1="969.8000000000001" x2="229.7" y2="972.1" stroke="#000" stroke-width="1"/>
<rect x="256" y="896.2" width="72.6" height="73.1" fill="none" stroke="#000" stroke-width="2"/>
<line x1="293.5" y1="896.2" x2="293.5" y2="969.3000000000001" stroke="#000" stroke-width="1.4"/>
<line x1="256" y1="928.5" x2="328.6" y2="928.5" stroke="#000" stroke-width="1.4"/>
<text x="258.3" y="908.8000000000001" font-size="12.6">58</text>
<text x="326.40000000000003" y="908.8000000000001" font-size="12.6" text-anchor="end">4</text>
<text x="258.3" y="967.5000000000001" font-size="12.6">38</text>
<text x="326.40000000000003" y="967.5000000000001" font-size="12.6" text-anchor="end">0</text>
<text x="253.6" y="905.6" font-size="6.3" text-anchor="end" class="tk">10<tspan font-size="4.2" dy="-2.5">5</tspan><tspan dy="2.5" font-size="1"> </tspan></text>
<text x="253.6" y="921.7" font-size="6.3" text-anchor="end" class="tk">10<tspan font-size="4.2" dy="-2.5">4</tspan><tspan dy="2.5" font-size="1"> </tspan></text>
<text x="253.6" y="939.4000000000001" font-size="6.3" text-anchor="end" class="tk">10<tspan font-size="4.2" dy="-2.5">3</tspan><tspan dy="2.5" font-size="1"> </tspan></text>
<text x="253.6" y="956.6" font-size="6.3" text-anchor="end" class="tk">10<tspan font-size="4.2" dy="-2.5">2</tspan><tspan dy="2.5" font-size="1"> </tspan></text>
<text x="252.8" y="965.0" font-size="6.3" text-anchor="end" class="tk">0</text>
<text x="262.2" y="980.7" font-size="6.3" class="tk">0</text>
<text x="266.2" y="980.7" font-size="6.3" class="tk">10<tspan font-size="4.2" dy="-2.5">2</tspan><tspan dy="2.5" font-size="1"> </tspan></text>
<text x="286" y="980.7" font-size="6.3" class="tk">10<tspan font-size="4.2" dy="-2.5">3</tspan><tspan dy="2.5" font-size="1"> </tspan></text>
<text x="305.3" y="980.7" font-size="6.3" class="tk">10<tspan font-size="4.2" dy="-2.5">4</tspan><tspan dy="2.5" font-size="1"> </tspan></text>
<text x="318" y="980.7" font-size="6.3" class="tk">10<tspan font-size="4.2" dy="-2.5">5</tspan><tspan dy="2.5" font-size="1"> </tspan></text>
<path d="M255.2 914.6h-1.3M255.2 911.7h-1.3M255.2 909.7h-1.3M255.2 908.1h-1.3M255.2 906.9h-1.3M255.2 905.8h-1.3M255.2 904.9h-1.3M255.2 904.0h-1.3M255.2 931.8h-1.3M255.2 928.7h-1.3M255.2 926.4h-1.3M255.2 924.7h-1.3M255.2 923.3h-1.3M255.2 922.1h-1.3M255.2 921.1h-1.3M255.2 920.2h-1.3M255.2 949.0h-1.3M255.2 946.0h-1.3M255.2 943.9h-1.3M255.2 942.2h-1.3M255.2 940.9h-1.3M255.2 939.7h-1.3M255.2 938.7h-1.3M255.2 937.9h-1.3M276.3 970.1v1.3M280.0 970.1v1.3M282.6 970.1v1.3M284.7 970.1v1.3M286.3 970.1v1.3M287.7 970.1v1.3M289.0 970.1v1.3M290.0 970.1v1.3M296.7 970.1v1.3M300.1 970.1v1.3M302.4 970.1v1.3M304.3 970.1v1.3M305.8 970.1v1.3M307.1 970.1v1.3M308.2 970.1v1.3M309.1 970.1v1.3M313.9 970.1v1.3M316.2 970.1v1.3M317.8 970.1v1.3M319.1 970.1v1.3M320.1 970.1v1.3M321.0 970.1v1.3M321.7 970.1v1.3M322.4 970.1v1.3" stroke="#000" stroke-width=".7" fill="none"/>
<line x1="253.4" y1="903.3000000000001" x2="255.5" y2="903.3000000000001" stroke="#000" stroke-width="1"/>
<line x1="253.4" y1="919.4000000000001" x2="255.5" y2="919.4000000000001" stroke="#000" stroke-width="1"/>
<line x1="253.4" y1="937.1" x2="255.5" y2="937.1" stroke="#000" stroke-width="1"/>
<line x1="253.4" y1="954.1" x2="255.5" y2="954.1" stroke="#000" stroke-width="1"/>
<line x1="253.4" y1="962.7" x2="255.5" y2="962.7" stroke="#000" stroke-width="1"/>
<line x1="264" y1="969.8000000000001" x2="264" y2="972.1" stroke="#000" stroke-width="1"/>
<line x1="270" y1="969.8000000000001" x2="270" y2="972.1" stroke="#000" stroke-width="1"/>
<line x1="291" y1="969.8000000000001" x2="291" y2="972.1" stroke="#000" stroke-width="1"/>
<line x1="310" y1="969.8000000000001" x2="310" y2="972.1" stroke="#000" stroke-width="1"/>
<line x1="323" y1="969.8000000000001" x2="323" y2="972.1" stroke="#000" stroke-width="1"/>
<rect x="349" y="896.2" width="72.5" height="73.1" fill="none" stroke="#000" stroke-width="2"/>
<line x1="386.5" y1="896.2" x2="386.5" y2="969.3000000000001" stroke="#000" stroke-width="1.4"/>
<line x1="349" y1="928.5" x2="421.5" y2="928.5" stroke="#000" stroke-width="1.4"/>
<text x="351.3" y="908.8000000000001" font-size="12.6">2</text>
<text x="419.3" y="908.8000000000001" font-size="12.6" text-anchor="end">0</text>
<text x="351.3" y="967.5000000000001" font-size="12.6">97</text>
<text x="419.3" y="967.5000000000001" font-size="12.6" text-anchor="end">1</text>
<text x="346.6" y="905.6" font-size="6.3" text-anchor="end" class="tk">10<tspan font-size="4.2" dy="-2.5">5</tspan><tspan dy="2.5" font-size="1"> </tspan></text>
<text x="346.6" y="921.7" font-size="6.3" text-anchor="end" class="tk">10<tspan font-size="4.2" dy="-2.5">4</tspan><tspan dy="2.5" font-size="1"> </tspan></text>
<text x="346.6" y="939.4000000000001" font-size="6.3" text-anchor="end" class="tk">10<tspan font-size="4.2" dy="-2.5">3</tspan><tspan dy="2.5" font-size="1"> </tspan></text>
<text x="346.6" y="956.6" font-size="6.3" text-anchor="end" class="tk">10<tspan font-size="4.2" dy="-2.5">2</tspan><tspan dy="2.5" font-size="1"> </tspan></text>
<text x="345.8" y="965.0" font-size="6.3" text-anchor="end" class="tk">0</text>
<text x="355.2" y="980.7" font-size="6.3" class="tk">0</text>
<text x="359.2" y="980.7" font-size="6.3" class="tk">10<tspan font-size="4.2" dy="-2.5">2</tspan><tspan dy="2.5" font-size="1"> </tspan></text>
<text x="379" y="980.7" font-size="6.3" class="tk">10<tspan font-size="4.2" dy="-2.5">3</tspan><tspan dy="2.5" font-size="1"> </tspan></text>
<text x="398.3" y="980.7" font-size="6.3" class="tk">10<tspan font-size="4.2" dy="-2.5">4</tspan><tspan dy="2.5" font-size="1"> </tspan></text>
<text x="411" y="980.7" font-size="6.3" class="tk">10<tspan font-size="4.2" dy="-2.5">5</tspan><tspan dy="2.5" font-size="1"> </tspan></text>
<path d="M348.2 914.6h-1.3M348.2 911.7h-1.3M348.2 909.7h-1.3M348.2 908.1h-1.3M348.2 906.9h-1.3M348.2 905.8h-1.3M348.2 904.9h-1.3M348.2 904.0h-1.3M348.2 931.8h-1.3M348.2 928.7h-1.3M348.2 926.4h-1.3M348.2 924.7h-1.3M348.2 923.3h-1.3M348.2 922.1h-1.3M348.2 921.1h-1.3M348.2 920.2h-1.3M348.2 949.0h-1.3M348.2 946.0h-1.3M348.2 943.9h-1.3M348.2 942.2h-1.3M348.2 940.9h-1.3M348.2 939.7h-1.3M348.2 938.7h-1.3M348.2 937.9h-1.3M369.3 970.1v1.3M373.0 970.1v1.3M375.6 970.1v1.3M377.7 970.1v1.3M379.3 970.1v1.3M380.7 970.1v1.3M382.0 970.1v1.3M383.0 970.1v1.3M389.7 970.1v1.3M393.1 970.1v1.3M395.4 970.1v1.3M397.3 970.1v1.3M398.8 970.1v1.3M400.1 970.1v1.3M401.2 970.1v1.3M402.1 970.1v1.3M406.9 970.1v1.3M409.2 970.1v1.3M410.8 970.1v1.3M412.1 970.1v1.3M413.1 970.1v1.3M414.0 970.1v1.3M414.7 970.1v1.3M415.4 970.1v1.3" stroke="#000" stroke-width=".7" fill="none"/>
<line x1="346.4" y1="903.3000000000001" x2="348.5" y2="903.3000000000001" stroke="#000" stroke-width="1"/>
<line x1="346.4" y1="919.4000000000001" x2="348.5" y2="919.4000000000001" stroke="#000" stroke-width="1"/>
<line x1="346.4" y1="937.1" x2="348.5" y2="937.1" stroke="#000" stroke-width="1"/>
<line x1="346.4" y1="954.1" x2="348.5" y2="954.1" stroke="#000" stroke-width="1"/>
<line x1="346.4" y1="962.7" x2="348.5" y2="962.7" stroke="#000" stroke-width="1"/>
<line x1="357" y1="969.8000000000001" x2="357" y2="972.1" stroke="#000" stroke-width="1"/>
<line x1="363" y1="969.8000000000001" x2="363" y2="972.1" stroke="#000" stroke-width="1"/>
<line x1="384" y1="969.8000000000001" x2="384" y2="972.1" stroke="#000" stroke-width="1"/>
<line x1="403" y1="969.8000000000001" x2="403" y2="972.1" stroke="#000" stroke-width="1"/>
<line x1="416" y1="969.8000000000001" x2="416" y2="972.1" stroke="#000" stroke-width="1"/>
<rect x="440.5" y="896.2" width="73.4" height="73.1" fill="none" stroke="#000" stroke-width="2"/>
<line x1="478.0" y1="896.2" x2="478.0" y2="969.3000000000001" stroke="#000" stroke-width="1.4"/>
<line x1="440.5" y1="928.5" x2="513.9" y2="928.5" stroke="#000" stroke-width="1.4"/>
<text x="442.8" y="908.8000000000001" font-size="12.6">2</text>
<text x="511.7" y="908.8000000000001" font-size="12.6" text-anchor="end">0</text>
<text x="442.8" y="967.5000000000001" font-size="12.6">94</text>
<text x="511.7" y="967.5000000000001" font-size="12.6" text-anchor="end">4</text>
<text x="438.1" y="905.6" font-size="6.3" text-anchor="end" class="tk">10<tspan font-size="4.2" dy="-2.5">5</tspan><tspan dy="2.5" font-size="1"> </tspan></text>
<text x="438.1" y="921.7" font-size="6.3" text-anchor="end" class="tk">10<tspan font-size="4.2" dy="-2.5">4</tspan><tspan dy="2.5" font-size="1"> </tspan></text>
<text x="438.1" y="939.4000000000001" font-size="6.3" text-anchor="end" class="tk">10<tspan font-size="4.2" dy="-2.5">3</tspan><tspan dy="2.5" font-size="1"> </tspan></text>
<text x="438.1" y="956.6" font-size="6.3" text-anchor="end" class="tk">10<tspan font-size="4.2" dy="-2.5">2</tspan><tspan dy="2.5" font-size="1"> </tspan></text>
<text x="437.3" y="965.0" font-size="6.3" text-anchor="end" class="tk">0</text>
<text x="446.7" y="980.7" font-size="6.3" class="tk">0</text>
<text x="450.7" y="980.7" font-size="6.3" class="tk">10<tspan font-size="4.2" dy="-2.5">2</tspan><tspan dy="2.5" font-size="1"> </tspan></text>
<text x="470.5" y="980.7" font-size="6.3" class="tk">10<tspan font-size="4.2" dy="-2.5">3</tspan><tspan dy="2.5" font-size="1"> </tspan></text>
<text x="489.8" y="980.7" font-size="6.3" class="tk">10<tspan font-size="4.2" dy="-2.5">4</tspan><tspan dy="2.5" font-size="1"> </tspan></text>
<text x="502.5" y="980.7" font-size="6.3" class="tk">10<tspan font-size="4.2" dy="-2.5">5</tspan><tspan dy="2.5" font-size="1"> </tspan></text>
<path d="M439.7 914.6h-1.3M439.7 911.7h-1.3M439.7 909.7h-1.3M439.7 908.1h-1.3M439.7 906.9h-1.3M439.7 905.8h-1.3M439.7 904.9h-1.3M439.7 904.0h-1.3M439.7 931.8h-1.3M439.7 928.7h-1.3M439.7 926.4h-1.3M439.7 924.7h-1.3M439.7 923.3h-1.3M439.7 922.1h-1.3M439.7 921.1h-1.3M439.7 920.2h-1.3M439.7 949.0h-1.3M439.7 946.0h-1.3M439.7 943.9h-1.3M439.7 942.2h-1.3M439.7 940.9h-1.3M439.7 939.7h-1.3M439.7 938.7h-1.3M439.7 937.9h-1.3M460.8 970.1v1.3M464.5 970.1v1.3M467.1 970.1v1.3M469.2 970.1v1.3M470.8 970.1v1.3M472.2 970.1v1.3M473.5 970.1v1.3M474.5 970.1v1.3M481.2 970.1v1.3M484.6 970.1v1.3M486.9 970.1v1.3M488.8 970.1v1.3M490.3 970.1v1.3M491.6 970.1v1.3M492.7 970.1v1.3M493.6 970.1v1.3M498.4 970.1v1.3M500.7 970.1v1.3M502.3 970.1v1.3M503.6 970.1v1.3M504.6 970.1v1.3M505.5 970.1v1.3M506.2 970.1v1.3M506.9 970.1v1.3" stroke="#000" stroke-width=".7" fill="none"/>
<line x1="437.9" y1="903.3000000000001" x2="440.0" y2="903.3000000000001" stroke="#000" stroke-width="1"/>
<line x1="437.9" y1="919.4000000000001" x2="440.0" y2="919.4000000000001" stroke="#000" stroke-width="1"/>
<line x1="437.9" y1="937.1" x2="440.0" y2="937.1" stroke="#000" stroke-width="1"/>
<line x1="437.9" y1="954.1" x2="440.0" y2="954.1" stroke="#000" stroke-width="1"/>
<line x1="437.9" y1="962.7" x2="440.0" y2="962.7" stroke="#000" stroke-width="1"/>
<line x1="448.5" y1="969.8000000000001" x2="448.5" y2="972.1" stroke="#000" stroke-width="1"/>
<line x1="454.5" y1="969.8000000000001" x2="454.5" y2="972.1" stroke="#000" stroke-width="1"/>
<line x1="475.5" y1="969.8000000000001" x2="475.5" y2="972.1" stroke="#000" stroke-width="1"/>
<line x1="494.5" y1="969.8000000000001" x2="494.5" y2="972.1" stroke="#000" stroke-width="1"/>
<line x1="507.5" y1="969.8000000000001" x2="507.5" y2="972.1" stroke="#000" stroke-width="1"/>
<rect x="162.7" y="988.3" width="72.5" height="73.1" fill="none" stroke="#000" stroke-width="2"/>
<line x1="200.2" y1="988.3" x2="200.2" y2="1061.3999999999999" stroke="#000" stroke-width="1.4"/>
<line x1="162.7" y1="1020.5999999999999" x2="235.2" y2="1020.5999999999999" stroke="#000" stroke-width="1.4"/>
<text x="165.0" y="1000.9" font-size="12.6">7</text>
<text x="233.0" y="1000.9" font-size="12.6" text-anchor="end">0</text>
<text x="165.0" y="1059.6" font-size="12.6">81</text>
<text x="233.0" y="1059.6" font-size="12.6" text-anchor="end">12</text>
<text x="160.29999999999998" y="997.6999999999999" font-size="6.3" text-anchor="end" class="tk">10<tspan font-size="4.2" dy="-2.5">5</tspan><tspan dy="2.5" font-size="1"> </tspan></text>
<text x="160.29999999999998" y="1013.8" font-size="6.3" text-anchor="end" class="tk">10<tspan font-size="4.2" dy="-2.5">4</tspan><tspan dy="2.5" font-size="1"> </tspan></text>
<text x="160.29999999999998" y="1031.5" font-size="6.3" text-anchor="end" class="tk">10<tspan font-size="4.2" dy="-2.5">3</tspan><tspan dy="2.5" font-size="1"> </tspan></text>
<text x="160.29999999999998" y="1048.7" font-size="6.3" text-anchor="end" class="tk">10<tspan font-size="4.2" dy="-2.5">2</tspan><tspan dy="2.5" font-size="1"> </tspan></text>
<text x="159.5" y="1057.1" font-size="6.3" text-anchor="end" class="tk">0</text>
<text x="168.89999999999998" y="1072.8" font-size="6.3" class="tk">0</text>
<text x="172.89999999999998" y="1072.8" font-size="6.3" class="tk">10<tspan font-size="4.2" dy="-2.5">2</tspan><tspan dy="2.5" font-size="1"> </tspan></text>
<text x="192.7" y="1072.8" font-size="6.3" class="tk">10<tspan font-size="4.2" dy="-2.5">3</tspan><tspan dy="2.5" font-size="1"> </tspan></text>
<text x="212.0" y="1072.8" font-size="6.3" class="tk">10<tspan font-size="4.2" dy="-2.5">4</tspan><tspan dy="2.5" font-size="1"> </tspan></text>
<text x="224.7" y="1072.8" font-size="6.3" class="tk">10<tspan font-size="4.2" dy="-2.5">5</tspan><tspan dy="2.5" font-size="1"> </tspan></text>
<path d="M161.9 1006.7h-1.3M161.9 1003.8h-1.3M161.9 1001.8h-1.3M161.9 1000.2h-1.3M161.9 999.0h-1.3M161.9 997.9h-1.3M161.9 997.0h-1.3M161.9 996.1h-1.3M161.9 1023.9h-1.3M161.9 1020.8h-1.3M161.9 1018.5h-1.3M161.9 1016.8h-1.3M161.9 1015.4h-1.3M161.9 1014.2h-1.3M161.9 1013.2h-1.3M161.9 1012.3h-1.3M161.9 1041.1h-1.3M161.9 1038.1h-1.3M161.9 1036.0h-1.3M161.9 1034.3h-1.3M161.9 1033.0h-1.3M161.9 1031.8h-1.3M161.9 1030.8h-1.3M161.9 1030.0h-1.3M183.0 1062.2v1.3M186.7 1062.2v1.3M189.3 1062.2v1.3M191.4 1062.2v1.3M193.0 1062.2v1.3M194.4 1062.2v1.3M195.7 1062.2v1.3M196.7 1062.2v1.3M203.4 1062.2v1.3M206.8 1062.2v1.3M209.1 1062.2v1.3M211.0 1062.2v1.3M212.5 1062.2v1.3M213.8 1062.2v1.3M214.9 1062.2v1.3M215.8 1062.2v1.3M220.6 1062.2v1.3M222.9 1062.2v1.3M224.5 1062.2v1.3M225.8 1062.2v1.3M226.8 1062.2v1.3M227.7 1062.2v1.3M228.4 1062.2v1.3M229.1 1062.2v1.3" stroke="#000" stroke-width=".7" fill="none"/>
<line x1="160.1" y1="995.4" x2="162.2" y2="995.4" stroke="#000" stroke-width="1"/>
<line x1="160.1" y1="1011.5" x2="162.2" y2="1011.5" stroke="#000" stroke-width="1"/>
<line x1="160.1" y1="1029.2" x2="162.2" y2="1029.2" stroke="#000" stroke-width="1"/>
<line x1="160.1" y1="1046.2" x2="162.2" y2="1046.2" stroke="#000" stroke-width="1"/>
<line x1="160.1" y1="1054.8" x2="162.2" y2="1054.8" stroke="#000" stroke-width="1"/>
<line x1="170.7" y1="1061.8999999999999" x2="170.7" y2="1064.1999999999998" stroke="#000" stroke-width="1"/>
<line x1="176.7" y1="1061.8999999999999" x2="176.7" y2="1064.1999999999998" stroke="#000" stroke-width="1"/>
<line x1="197.7" y1="1061.8999999999999" x2="197.7" y2="1064.1999999999998" stroke="#000" stroke-width="1"/>
<line x1="216.7" y1="1061.8999999999999" x2="216.7" y2="1064.1999999999998" stroke="#000" stroke-width="1"/>
<line x1="229.7" y1="1061.8999999999999" x2="229.7" y2="1064.1999999999998" stroke="#000" stroke-width="1"/>
<rect x="256" y="988.3" width="72.6" height="73.1" fill="none" stroke="#000" stroke-width="2"/>
<line x1="293.5" y1="988.3" x2="293.5" y2="1061.3999999999999" stroke="#000" stroke-width="1.4"/>
<line x1="256" y1="1020.5999999999999" x2="328.6" y2="1020.5999999999999" stroke="#000" stroke-width="1.4"/>
<text x="258.3" y="1000.9" font-size="12.6">43</text>
<text x="326.40000000000003" y="1000.9" font-size="12.6" text-anchor="end">2</text>
<text x="258.3" y="1059.6" font-size="12.6">54</text>
<text x="326.40000000000003" y="1059.6" font-size="12.6" text-anchor="end">1</text>
<text x="253.6" y="997.6999999999999" font-size="6.3" text-anchor="end" class="tk">10<tspan font-size="4.2" dy="-2.5">5</tspan><tspan dy="2.5" font-size="1"> </tspan></text>
<text x="253.6" y="1013.8" font-size="6.3" text-anchor="end" class="tk">10<tspan font-size="4.2" dy="-2.5">4</tspan><tspan dy="2.5" font-size="1"> </tspan></text>
<text x="253.6" y="1031.5" font-size="6.3" text-anchor="end" class="tk">10<tspan font-size="4.2" dy="-2.5">3</tspan><tspan dy="2.5" font-size="1"> </tspan></text>
<text x="253.6" y="1048.7" font-size="6.3" text-anchor="end" class="tk">10<tspan font-size="4.2" dy="-2.5">2</tspan><tspan dy="2.5" font-size="1"> </tspan></text>
<text x="252.8" y="1057.1" font-size="6.3" text-anchor="end" class="tk">0</text>
<text x="262.2" y="1072.8" font-size="6.3" class="tk">0</text>
<text x="266.2" y="1072.8" font-size="6.3" class="tk">10<tspan font-size="4.2" dy="-2.5">2</tspan><tspan dy="2.5" font-size="1"> </tspan></text>
<text x="286" y="1072.8" font-size="6.3" class="tk">10<tspan font-size="4.2" dy="-2.5">3</tspan><tspan dy="2.5" font-size="1"> </tspan></text>
<text x="305.3" y="1072.8" font-size="6.3" class="tk">10<tspan font-size="4.2" dy="-2.5">4</tspan><tspan dy="2.5" font-size="1"> </tspan></text>
<text x="318" y="1072.8" font-size="6.3" class="tk">10<tspan font-size="4.2" dy="-2.5">5</tspan><tspan dy="2.5" font-size="1"> </tspan></text>
<path d="M255.2 1006.7h-1.3M255.2 1003.8h-1.3M255.2 1001.8h-1.3M255.2 1000.2h-1.3M255.2 999.0h-1.3M255.2 997.9h-1.3M255.2 997.0h-1.3M255.2 996.1h-1.3M255.2 1023.9h-1.3M255.2 1020.8h-1.3M255.2 1018.5h-1.3M255.2 1016.8h-1.3M255.2 1015.4h-1.3M255.2 1014.2h-1.3M255.2 1013.2h-1.3M255.2 1012.3h-1.3M255.2 1041.1h-1.3M255.2 1038.1h-1.3M255.2 1036.0h-1.3M255.2 1034.3h-1.3M255.2 1033.0h-1.3M255.2 1031.8h-1.3M255.2 1030.8h-1.3M255.2 1030.0h-1.3M276.3 1062.2v1.3M280.0 1062.2v1.3M282.6 1062.2v1.3M284.7 1062.2v1.3M286.3 1062.2v1.3M287.7 1062.2v1.3M289.0 1062.2v1.3M290.0 1062.2v1.3M296.7 1062.2v1.3M300.1 1062.2v1.3M302.4 1062.2v1.3M304.3 1062.2v1.3M305.8 1062.2v1.3M307.1 1062.2v1.3M308.2 1062.2v1.3M309.1 1062.2v1.3M313.9 1062.2v1.3M316.2 1062.2v1.3M317.8 1062.2v1.3M319.1 1062.2v1.3M320.1 1062.2v1.3M321.0 1062.2v1.3M321.7 1062.2v1.3M322.4 1062.2v1.3" stroke="#000" stroke-width=".7" fill="none"/>
<line x1="253.4" y1="995.4" x2="255.5" y2="995.4" stroke="#000" stroke-width="1"/>
<line x1="253.4" y1="1011.5" x2="255.5" y2="1011.5" stroke="#000" stroke-width="1"/>
<line x1="253.4" y1="1029.2" x2="255.5" y2="1029.2" stroke="#000" stroke-width="1"/>
<line x1="253.4" y1="1046.2" x2="255.5" y2="1046.2" stroke="#000" stroke-width="1"/>
<line x1="253.4" y1="1054.8" x2="255.5" y2="1054.8" stroke="#000" stroke-width="1"/>
<line x1="264" y1="1061.8999999999999" x2="264" y2="1064.1999999999998" stroke="#000" stroke-width="1"/>
<line x1="270" y1="1061.8999999999999" x2="270" y2="1064.1999999999998" stroke="#000" stroke-width="1"/>
<line x1="291" y1="1061.8999999999999" x2="291" y2="1064.1999999999998" stroke="#000" stroke-width="1"/>
<line x1="310" y1="1061.8999999999999" x2="310" y2="1064.1999999999998" stroke="#000" stroke-width="1"/>
<line x1="323" y1="1061.8999999999999" x2="323" y2="1064.1999999999998" stroke="#000" stroke-width="1"/>
<rect x="349" y="988.3" width="72.5" height="73.1" fill="none" stroke="#000" stroke-width="2"/>
<line x1="386.5" y1="988.3" x2="386.5" y2="1061.3999999999999" stroke="#000" stroke-width="1.4"/>
<line x1="349" y1="1020.5999999999999" x2="421.5" y2="1020.5999999999999" stroke="#000" stroke-width="1.4"/>
<text x="351.3" y="1000.9" font-size="12.6">15</text>
<text x="419.3" y="1000.9" font-size="12.6" text-anchor="end">1</text>
<text x="351.3" y="1059.6" font-size="12.6">63</text>
<text x="419.3" y="1059.6" font-size="12.6" text-anchor="end">21</text>
<text x="346.6" y="997.6999999999999" font-size="6.3" text-anchor="end" class="tk">10<tspan font-size="4.2" dy="-2.5">5</tspan><tspan dy="2.5" font-size="1"> </tspan></text>
<text x="346.6" y="1013.8" font-size="6.3" text-anchor="end" class="tk">10<tspan font-size="4.2" dy="-2.5">4</tspan><tspan dy="2.5" font-size="1"> </tspan></text>
<text x="346.6" y="1031.5" font-size="6.3" text-anchor="end" class="tk">10<tspan font-size="4.2" dy="-2.5">3</tspan><tspan dy="2.5" font-size="1"> </tspan></text>
<text x="346.6" y="1048.7" font-size="6.3" text-anchor="end" class="tk">10<tspan font-size="4.2" dy="-2.5">2</tspan><tspan dy="2.5" font-size="1"> </tspan></text>
<text x="345.8" y="1057.1" font-size="6.3" text-anchor="end" class="tk">0</text>
<text x="355.2" y="1072.8" font-size="6.3" class="tk">0</text>
<text x="359.2" y="1072.8" font-size="6.3" class="tk">10<tspan font-size="4.2" dy="-2.5">2</tspan><tspan dy="2.5" font-size="1"> </tspan></text>
<text x="379" y="1072.8" font-size="6.3" class="tk">10<tspan font-size="4.2" dy="-2.5">3</tspan><tspan dy="2.5" font-size="1"> </tspan></text>
<text x="398.3" y="1072.8" font-size="6.3" class="tk">10<tspan font-size="4.2" dy="-2.5">4</tspan><tspan dy="2.5" font-size="1"> </tspan></text>
<text x="411" y="1072.8" font-size="6.3" class="tk">10<tspan font-size="4.2" dy="-2.5">5</tspan><tspan dy="2.5" font-size="1"> </tspan></text>
<path d="M348.2 1006.7h-1.3M348.2 1003.8h-1.3M348.2 1001.8h-1.3M348.2 1000.2h-1.3M348.2 999.0h-1.3M348.2 997.9h-1.3M348.2 997.0h-1.3M348.2 996.1h-1.3M348.2 1023.9h-1.3M348.2 1020.8h-1.3M348.2 1018.5h-1.3M348.2 1016.8h-1.3M348.2 1015.4h-1.3M348.2 1014.2h-1.3M348.2 1013.2h-1.3M348.2 1012.3h-1.3M348.2 1041.1h-1.3M348.2 1038.1h-1.3M348.2 1036.0h-1.3M348.2 1034.3h-1.3M348.2 1033.0h-1.3M348.2 1031.8h-1.3M348.2 1030.8h-1.3M348.2 1030.0h-1.3M369.3 1062.2v1.3M373.0 1062.2v1.3M375.6 1062.2v1.3M377.7 1062.2v1.3M379.3 1062.2v1.3M380.7 1062.2v1.3M382.0 1062.2v1.3M383.0 1062.2v1.3M389.7 1062.2v1.3M393.1 1062.2v1.3M395.4 1062.2v1.3M397.3 1062.2v1.3M398.8 1062.2v1.3M400.1 1062.2v1.3M401.2 1062.2v1.3M402.1 1062.2v1.3M406.9 1062.2v1.3M409.2 1062.2v1.3M410.8 1062.2v1.3M412.1 1062.2v1.3M413.1 1062.2v1.3M414.0 1062.2v1.3M414.7 1062.2v1.3M415.4 1062.2v1.3" stroke="#000" stroke-width=".7" fill="none"/>
<line x1="346.4" y1="995.4" x2="348.5" y2="995.4" stroke="#000" stroke-width="1"/>
<line x1="346.4" y1="1011.5" x2="348.5" y2="1011.5" stroke="#000" stroke-width="1"/>
<line x1="346.4" y1="1029.2" x2="348.5" y2="1029.2" stroke="#000" stroke-width="1"/>
<line x1="346.4" y1="1046.2" x2="348.5" y2="1046.2" stroke="#000" stroke-width="1"/>
<line x1="346.4" y1="1054.8" x2="348.5" y2="1054.8" stroke="#000" stroke-width="1"/>
<line x1="357" y1="1061.8999999999999" x2="357" y2="1064.1999999999998" stroke="#000" stroke-width="1"/>
<line x1="363" y1="1061.8999999999999" x2="363" y2="1064.1999999999998" stroke="#000" stroke-width="1"/>
<line x1="384" y1="1061.8999999999999" x2="384" y2="1064.1999999999998" stroke="#000" stroke-width="1"/>
<line x1="403" y1="1061.8999999999999" x2="403" y2="1064.1999999999998" stroke="#000" stroke-width="1"/>
<line x1="416" y1="1061.8999999999999" x2="416" y2="1064.1999999999998" stroke="#000" stroke-width="1"/>
<rect x="440.5" y="988.3" width="73.4" height="73.1" fill="none" stroke="#000" stroke-width="2"/>
<line x1="478.0" y1="988.3" x2="478.0" y2="1061.3999999999999" stroke="#000" stroke-width="1.4"/>
<line x1="440.5" y1="1020.5999999999999" x2="513.9" y2="1020.5999999999999" stroke="#000" stroke-width="1.4"/>
<text x="442.8" y="1000.9" font-size="12.6">16</text>
<text x="511.7" y="1000.9" font-size="12.6" text-anchor="end">2</text>
<text x="442.8" y="1059.6" font-size="12.6">57</text>
<text x="511.7" y="1059.6" font-size="12.6" text-anchor="end">25</text>
<text x="438.1" y="997.6999999999999" font-size="6.3" text-anchor="end" class="tk">10<tspan font-size="4.2" dy="-2.5">5</tspan><tspan dy="2.5" font-size="1"> </tspan></text>
<text x="438.1" y="1013.8" font-size="6.3" text-anchor="end" class="tk">10<tspan font-size="4.2" dy="-2.5">4</tspan><tspan dy="2.5" font-size="1"> </tspan></text>
<text x="438.1" y="1031.5" font-size="6.3" text-anchor="end" class="tk">10<tspan font-size="4.2" dy="-2.5">3</tspan><tspan dy="2.5" font-size="1"> </tspan></text>
<text x="438.1" y="1048.7" font-size="6.3" text-anchor="end" class="tk">10<tspan font-size="4.2" dy="-2.5">2</tspan><tspan dy="2.5" font-size="1"> </tspan></text>
<text x="437.3" y="1057.1" font-size="6.3" text-anchor="end" class="tk">0</text>
<text x="446.7" y="1072.8" font-size="6.3" class="tk">0</text>
<text x="450.7" y="1072.8" font-size="6.3" class="tk">10<tspan font-size="4.2" dy="-2.5">2</tspan><tspan dy="2.5" font-size="1"> </tspan></text>
<text x="470.5" y="1072.8" font-size="6.3" class="tk">10<tspan font-size="4.2" dy="-2.5">3</tspan><tspan dy="2.5" font-size="1"> </tspan></text>
<text x="489.8" y="1072.8" font-size="6.3" class="tk">10<tspan font-size="4.2" dy="-2.5">4</tspan><tspan dy="2.5" font-size="1"> </tspan></text>
<text x="502.5" y="1072.8" font-size="6.3" class="tk">10<tspan font-size="4.2" dy="-2.5">5</tspan><tspan dy="2.5" font-size="1"> </tspan></text>
<path d="M439.7 1006.7h-1.3M439.7 1003.8h-1.3M439.7 1001.8h-1.3M439.7 1000.2h-1.3M439.7 999.0h-1.3M439.7 997.9h-1.3M439.7 997.0h-1.3M439.7 996.1h-1.3M439.7 1023.9h-1.3M439.7 1020.8h-1.3M439.7 1018.5h-1.3M439.7 1016.8h-1.3M439.7 1015.4h-1.3M439.7 1014.2h-1.3M439.7 1013.2h-1.3M439.7 1012.3h-1.3M439.7 1041.1h-1.3M439.7 1038.1h-1.3M439.7 1036.0h-1.3M439.7 1034.3h-1.3M439.7 1033.0h-1.3M439.7 1031.8h-1.3M439.7 1030.8h-1.3M439.7 1030.0h-1.3M460.8 1062.2v1.3M464.5 1062.2v1.3M467.1 1062.2v1.3M469.2 1062.2v1.3M470.8 1062.2v1.3M472.2 1062.2v1.3M473.5 1062.2v1.3M474.5 1062.2v1.3M481.2 1062.2v1.3M484.6 1062.2v1.3M486.9 1062.2v1.3M488.8 1062.2v1.3M490.3 1062.2v1.3M491.6 1062.2v1.3M492.7 1062.2v1.3M493.6 1062.2v1.3M498.4 1062.2v1.3M500.7 1062.2v1.3M502.3 1062.2v1.3M503.6 1062.2v1.3M504.6 1062.2v1.3M505.5 1062.2v1.3M506.2 1062.2v1.3M506.9 1062.2v1.3" stroke="#000" stroke-width=".7" fill="none"/>
<line x1="437.9" y1="995.4" x2="440.0" y2="995.4" stroke="#000" stroke-width="1"/>
<line x1="437.9" y1="1011.5" x2="440.0" y2="1011.5" stroke="#000" stroke-width="1"/>
<line x1="437.9" y1="1029.2" x2="440.0" y2="1029.2" stroke="#000" stroke-width="1"/>
<line x1="437.9" y1="1046.2" x2="440.0" y2="1046.2" stroke="#000" stroke-width="1"/>
<line x1="437.9" y1="1054.8" x2="440.0" y2="1054.8" stroke="#000" stroke-width="1"/>
<line x1="448.5" y1="1061.8999999999999" x2="448.5" y2="1064.1999999999998" stroke="#000" stroke-width="1"/>
<line x1="454.5" y1="1061.8999999999999" x2="454.5" y2="1064.1999999999998" stroke="#000" stroke-width="1"/>
<line x1="475.5" y1="1061.8999999999999" x2="475.5" y2="1064.1999999999998" stroke="#000" stroke-width="1"/>
<line x1="494.5" y1="1061.8999999999999" x2="494.5" y2="1064.1999999999998" stroke="#000" stroke-width="1"/>
<line x1="507.5" y1="1061.8999999999999" x2="507.5" y2="1064.1999999999998" stroke="#000" stroke-width="1"/>
<rect x="162.7" y="1080.2" width="72.5" height="73.1" fill="none" stroke="#000" stroke-width="2"/>
<line x1="200.2" y1="1080.2" x2="200.2" y2="1153.3" stroke="#000" stroke-width="1.4"/>
<line x1="162.7" y1="1112.5" x2="235.2" y2="1112.5" stroke="#000" stroke-width="1.4"/>
<text x="165.0" y="1092.8" font-size="12.6">15</text>
<text x="233.0" y="1092.8" font-size="12.6" text-anchor="end">0</text>
<text x="165.0" y="1151.5" font-size="12.6">75</text>
<text x="233.0" y="1151.5" font-size="12.6" text-anchor="end">10</text>
<text x="160.29999999999998" y="1089.6000000000001" font-size="6.3" text-anchor="end" class="tk">10<tspan font-size="4.2" dy="-2.5">5</tspan><tspan dy="2.5" font-size="1"> </tspan></text>
<text x="160.29999999999998" y="1105.7" font-size="6.3" text-anchor="end" class="tk">10<tspan font-size="4.2" dy="-2.5">4</tspan><tspan dy="2.5" font-size="1"> </tspan></text>
<text x="160.29999999999998" y="1123.4" font-size="6.3" text-anchor="end" class="tk">10<tspan font-size="4.2" dy="-2.5">3</tspan><tspan dy="2.5" font-size="1"> </tspan></text>
<text x="160.29999999999998" y="1140.6000000000001" font-size="6.3" text-anchor="end" class="tk">10<tspan font-size="4.2" dy="-2.5">2</tspan><tspan dy="2.5" font-size="1"> </tspan></text>
<text x="159.5" y="1149.0" font-size="6.3" text-anchor="end" class="tk">0</text>
<text x="168.89999999999998" y="1164.7" font-size="6.3" class="tk">0</text>
<text x="172.89999999999998" y="1164.7" font-size="6.3" class="tk">10<tspan font-size="4.2" dy="-2.5">2</tspan><tspan dy="2.5" font-size="1"> </tspan></text>
<text x="192.7" y="1164.7" font-size="6.3" class="tk">10<tspan font-size="4.2" dy="-2.5">3</tspan><tspan dy="2.5" font-size="1"> </tspan></text>
<text x="212.0" y="1164.7" font-size="6.3" class="tk">10<tspan font-size="4.2" dy="-2.5">4</tspan><tspan dy="2.5" font-size="1"> </tspan></text>
<text x="224.7" y="1164.7" font-size="6.3" class="tk">10<tspan font-size="4.2" dy="-2.5">5</tspan><tspan dy="2.5" font-size="1"> </tspan></text>
<path d="M161.9 1098.6h-1.3M161.9 1095.7h-1.3M161.9 1093.7h-1.3M161.9 1092.1h-1.3M161.9 1090.9h-1.3M161.9 1089.8h-1.3M161.9 1088.9h-1.3M161.9 1088.0h-1.3M161.9 1115.8h-1.3M161.9 1112.7h-1.3M161.9 1110.4h-1.3M161.9 1108.7h-1.3M161.9 1107.3h-1.3M161.9 1106.1h-1.3M161.9 1105.1h-1.3M161.9 1104.2h-1.3M161.9 1133.0h-1.3M161.9 1130.0h-1.3M161.9 1127.9h-1.3M161.9 1126.2h-1.3M161.9 1124.9h-1.3M161.9 1123.7h-1.3M161.9 1122.7h-1.3M161.9 1121.9h-1.3M183.0 1154.1v1.3M186.7 1154.1v1.3M189.3 1154.1v1.3M191.4 1154.1v1.3M193.0 1154.1v1.3M194.4 1154.1v1.3M195.7 1154.1v1.3M196.7 1154.1v1.3M203.4 1154.1v1.3M206.8 1154.1v1.3M209.1 1154.1v1.3M211.0 1154.1v1.3M212.5 1154.1v1.3M213.8 1154.1v1.3M214.9 1154.1v1.3M215.8 1154.1v1.3M220.6 1154.1v1.3M222.9 1154.1v1.3M224.5 1154.1v1.3M225.8 1154.1v1.3M226.8 1154.1v1.3M227.7 1154.1v1.3M228.4 1154.1v1.3M229.1 1154.1v1.3" stroke="#000" stroke-width=".7" fill="none"/>
<line x1="160.1" y1="1087.3" x2="162.2" y2="1087.3" stroke="#000" stroke-width="1"/>
<line x1="160.1" y1="1103.4" x2="162.2" y2="1103.4" stroke="#000" stroke-width="1"/>
<line x1="160.1" y1="1121.1000000000001" x2="162.2" y2="1121.1000000000001" stroke="#000" stroke-width="1"/>
<line x1="160.1" y1="1138.1000000000001" x2="162.2" y2="1138.1000000000001" stroke="#000" stroke-width="1"/>
<line x1="160.1" y1="1146.7" x2="162.2" y2="1146.7" stroke="#000" stroke-width="1"/>
<line x1="170.7" y1="1153.8" x2="170.7" y2="1156.1" stroke="#000" stroke-width="1"/>
<line x1="176.7" y1="1153.8" x2="176.7" y2="1156.1" stroke="#000" stroke-width="1"/>
<line x1="197.7" y1="1153.8" x2="197.7" y2="1156.1" stroke="#000" stroke-width="1"/>
<line x1="216.7" y1="1153.8" x2="216.7" y2="1156.1" stroke="#000" stroke-width="1"/>
<line x1="229.7" y1="1153.8" x2="229.7" y2="1156.1" stroke="#000" stroke-width="1"/>
<rect x="256" y="1080.2" width="72.6" height="73.1" fill="none" stroke="#000" stroke-width="2"/>
<line x1="293.5" y1="1080.2" x2="293.5" y2="1153.3" stroke="#000" stroke-width="1.4"/>
<line x1="256" y1="1112.5" x2="328.6" y2="1112.5" stroke="#000" stroke-width="1.4"/>
<text x="258.3" y="1092.8" font-size="12.6">34</text>
<text x="326.40000000000003" y="1092.8" font-size="12.6" text-anchor="end">8</text>
<text x="258.3" y="1151.5" font-size="12.6">55</text>
<text x="326.40000000000003" y="1151.5" font-size="12.6" text-anchor="end">3</text>
<text x="253.6" y="1089.6000000000001" font-size="6.3" text-anchor="end" class="tk">10<tspan font-size="4.2" dy="-2.5">5</tspan><tspan dy="2.5" font-size="1"> </tspan></text>
<text x="253.6" y="1105.7" font-size="6.3" text-anchor="end" class="tk">10<tspan font-size="4.2" dy="-2.5">4</tspan><tspan dy="2.5" font-size="1"> </tspan></text>
<text x="253.6" y="1123.4" font-size="6.3" text-anchor="end" class="tk">10<tspan font-size="4.2" dy="-2.5">3</tspan><tspan dy="2.5" font-size="1"> </tspan></text>
<text x="253.6" y="1140.6000000000001" font-size="6.3" text-anchor="end" class="tk">10<tspan font-size="4.2" dy="-2.5">2</tspan><tspan dy="2.5" font-size="1"> </tspan></text>
<text x="252.8" y="1149.0" font-size="6.3" text-anchor="end" class="tk">0</text>
<text x="262.2" y="1164.7" font-size="6.3" class="tk">0</text>
<text x="266.2" y="1164.7" font-size="6.3" class="tk">10<tspan font-size="4.2" dy="-2.5">2</tspan><tspan dy="2.5" font-size="1"> </tspan></text>
<text x="286" y="1164.7" font-size="6.3" class="tk">10<tspan font-size="4.2" dy="-2.5">3</tspan><tspan dy="2.5" font-size="1"> </tspan></text>
<text x="305.3" y="1164.7" font-size="6.3" class="tk">10<tspan font-size="4.2" dy="-2.5">4</tspan><tspan dy="2.5" font-size="1"> </tspan></text>
<text x="318" y="1164.7" font-size="6.3" class="tk">10<tspan font-size="4.2" dy="-2.5">5</tspan><tspan dy="2.5" font-size="1"> </tspan></text>
<path d="M255.2 1098.6h-1.3M255.2 1095.7h-1.3M255.2 1093.7h-1.3M255.2 1092.1h-1.3M255.2 1090.9h-1.3M255.2 1089.8h-1.3M255.2 1088.9h-1.3M255.2 1088.0h-1.3M255.2 1115.8h-1.3M255.2 1112.7h-1.3M255.2 1110.4h-1.3M255.2 1108.7h-1.3M255.2 1107.3h-1.3M255.2 1106.1h-1.3M255.2 1105.1h-1.3M255.2 1104.2h-1.3M255.2 1133.0h-1.3M255.2 1130.0h-1.3M255.2 1127.9h-1.3M255.2 1126.2h-1.3M255.2 1124.9h-1.3M255.2 1123.7h-1.3M255.2 1122.7h-1.3M255.2 1121.9h-1.3M276.3 1154.1v1.3M280.0 1154.1v1.3M282.6 1154.1v1.3M284.7 1154.1v1.3M286.3 1154.1v1.3M287.7 1154.1v1.3M289.0 1154.1v1.3M290.0 1154.1v1.3M296.7 1154.1v1.3M300.1 1154.1v1.3M302.4 1154.1v1.3M304.3 1154.1v1.3M305.8 1154.1v1.3M307.1 1154.1v1.3M308.2 1154.1v1.3M309.1 1154.1v1.3M313.9 1154.1v1.3M316.2 1154.1v1.3M317.8 1154.1v1.3M319.1 1154.1v1.3M320.1 1154.1v1.3M321.0 1154.1v1.3M321.7 1154.1v1.3M322.4 1154.1v1.3" stroke="#000" stroke-width=".7" fill="none"/>
<line x1="253.4" y1="1087.3" x2="255.5" y2="1087.3" stroke="#000" stroke-width="1"/>
<line x1="253.4" y1="1103.4" x2="255.5" y2="1103.4" stroke="#000" stroke-width="1"/>
<line x1="253.4" y1="1121.1000000000001" x2="255.5" y2="1121.1000000000001" stroke="#000" stroke-width="1"/>
<line x1="253.4" y1="1138.1000000000001" x2="255.5" y2="1138.1000000000001" stroke="#000" stroke-width="1"/>
<line x1="253.4" y1="1146.7" x2="255.5" y2="1146.7" stroke="#000" stroke-width="1"/>
<line x1="264" y1="1153.8" x2="264" y2="1156.1" stroke="#000" stroke-width="1"/>
<line x1="270" y1="1153.8" x2="270" y2="1156.1" stroke="#000" stroke-width="1"/>
<line x1="291" y1="1153.8" x2="291" y2="1156.1" stroke="#000" stroke-width="1"/>
<line x1="310" y1="1153.8" x2="310" y2="1156.1" stroke="#000" stroke-width="1"/>
<line x1="323" y1="1153.8" x2="323" y2="1156.1" stroke="#000" stroke-width="1"/>
<rect x="349" y="1080.2" width="72.5" height="73.1" fill="none" stroke="#000" stroke-width="2"/>
<line x1="386.5" y1="1080.2" x2="386.5" y2="1153.3" stroke="#000" stroke-width="1.4"/>
<line x1="349" y1="1112.5" x2="421.5" y2="1112.5" stroke="#000" stroke-width="1.4"/>
<text x="351.3" y="1092.8" font-size="12.6">10</text>
<text x="419.3" y="1092.8" font-size="12.6" text-anchor="end">0</text>
<text x="351.3" y="1151.5" font-size="12.6">79</text>
<text x="419.3" y="1151.5" font-size="12.6" text-anchor="end">11</text>
<text x="346.6" y="1089.6000000000001" font-size="6.3" text-anchor="end" class="tk">10<tspan font-size="4.2" dy="-2.5">5</tspan><tspan dy="2.5" font-size="1"> </tspan></text>
<text x="346.6" y="1105.7" font-size="6.3" text-anchor="end" class="tk">10<tspan font-size="4.2" dy="-2.5">4</tspan><tspan dy="2.5" font-size="1"> </tspan></text>
<text x="346.6" y="1123.4" font-size="6.3" text-anchor="end" class="tk">10<tspan font-size="4.2" dy="-2.5">3</tspan><tspan dy="2.5" font-size="1"> </tspan></text>
<text x="346.6" y="1140.6000000000001" font-size="6.3" text-anchor="end" class="tk">10<tspan font-size="4.2" dy="-2.5">2</tspan><tspan dy="2.5" font-size="1"> </tspan></text>
<text x="345.8" y="1149.0" font-size="6.3" text-anchor="end" class="tk">0</text>
<text x="355.2" y="1164.7" font-size="6.3" class="tk">0</text>
<text x="359.2" y="1164.7" font-size="6.3" class="tk">10<tspan font-size="4.2" dy="-2.5">2</tspan><tspan dy="2.5" font-size="1"> </tspan></text>
<text x="379" y="1164.7" font-size="6.3" class="tk">10<tspan font-size="4.2" dy="-2.5">3</tspan><tspan dy="2.5" font-size="1"> </tspan></text>
<text x="398.3" y="1164.7" font-size="6.3" class="tk">10<tspan font-size="4.2" dy="-2.5">4</tspan><tspan dy="2.5" font-size="1"> </tspan></text>
<text x="411" y="1164.7" font-size="6.3" class="tk">10<tspan font-size="4.2" dy="-2.5">5</tspan><tspan dy="2.5" font-size="1"> </tspan></text>
<path d="M348.2 1098.6h-1.3M348.2 1095.7h-1.3M348.2 1093.7h-1.3M348.2 1092.1h-1.3M348.2 1090.9h-1.3M348.2 1089.8h-1.3M348.2 1088.9h-1.3M348.2 1088.0h-1.3M348.2 1115.8h-1.3M348.2 1112.7h-1.3M348.2 1110.4h-1.3M348.2 1108.7h-1.3M348.2 1107.3h-1.3M348.2 1106.1h-1.3M348.2 1105.1h-1.3M348.2 1104.2h-1.3M348.2 1133.0h-1.3M348.2 1130.0h-1.3M348.2 1127.9h-1.3M348.2 1126.2h-1.3M348.2 1124.9h-1.3M348.2 1123.7h-1.3M348.2 1122.7h-1.3M348.2 1121.9h-1.3M369.3 1154.1v1.3M373.0 1154.1v1.3M375.6 1154.1v1.3M377.7 1154.1v1.3M379.3 1154.1v1.3M380.7 1154.1v1.3M382.0 1154.1v1.3M383.0 1154.1v1.3M389.7 1154.1v1.3M393.1 1154.1v1.3M395.4 1154.1v1.3M397.3 1154.1v1.3M398.8 1154.1v1.3M400.1 1154.1v1.3M401.2 1154.1v1.3M402.1 1154.1v1.3M406.9 1154.1v1.3M409.2 1154.1v1.3M410.8 1154.1v1.3M412.1 1154.1v1.3M413.1 1154.1v1.3M414.0 1154.1v1.3M414.7 1154.1v1.3M415.4 1154.1v1.3" stroke="#000" stroke-width=".7" fill="none"/>
<line x1="346.4" y1="1087.3" x2="348.5" y2="1087.3" stroke="#000" stroke-width="1"/>
<line x1="346.4" y1="1103.4" x2="348.5" y2="1103.4" stroke="#000" stroke-width="1"/>
<line x1="346.4" y1="1121.1000000000001" x2="348.5" y2="1121.1000000000001" stroke="#000" stroke-width="1"/>
<line x1="346.4" y1="1138.1000000000001" x2="348.5" y2="1138.1000000000001" stroke="#000" stroke-width="1"/>
<line x1="346.4" y1="1146.7" x2="348.5" y2="1146.7" stroke="#000" stroke-width="1"/>
<line x1="357" y1="1153.8" x2="357" y2="1156.1" stroke="#000" stroke-width="1"/>
<line x1="363" y1="1153.8" x2="363" y2="1156.1" stroke="#000" stroke-width="1"/>
<line x1="384" y1="1153.8" x2="384" y2="1156.1" stroke="#000" stroke-width="1"/>
<line x1="403" y1="1153.8" x2="403" y2="1156.1" stroke="#000" stroke-width="1"/>
<line x1="416" y1="1153.8" x2="416" y2="1156.1" stroke="#000" stroke-width="1"/>
<rect x="440.5" y="1080.2" width="73.4" height="73.1" fill="none" stroke="#000" stroke-width="2"/>
<line x1="478.0" y1="1080.2" x2="478.0" y2="1153.3" stroke="#000" stroke-width="1.4"/>
<line x1="440.5" y1="1112.5" x2="513.9" y2="1112.5" stroke="#000" stroke-width="1.4"/>
<text x="442.8" y="1092.8" font-size="12.6">8</text>
<text x="511.7" y="1092.8" font-size="12.6" text-anchor="end">0</text>
<text x="442.8" y="1151.5" font-size="12.6">77</text>
<text x="511.7" y="1151.5" font-size="12.6" text-anchor="end">15</text>
<text x="438.1" y="1089.6000000000001" font-size="6.3" text-anchor="end" class="tk">10<tspan font-size="4.2" dy="-2.5">5</tspan><tspan dy="2.5" font-size="1"> </tspan></text>
<text x="438.1" y="1105.7" font-size="6.3" text-anchor="end" class="tk">10<tspan font-size="4.2" dy="-2.5">4</tspan><tspan dy="2.5" font-size="1"> </tspan></text>
<text x="438.1" y="1123.4" font-size="6.3" text-anchor="end" class="tk">10<tspan font-size="4.2" dy="-2.5">3</tspan><tspan dy="2.5" font-size="1"> </tspan></text>
<text x="438.1" y="1140.6000000000001" font-size="6.3" text-anchor="end" class="tk">10<tspan font-size="4.2" dy="-2.5">2</tspan><tspan dy="2.5" font-size="1"> </tspan></text>
<text x="437.3" y="1149.0" font-size="6.3" text-anchor="end" class="tk">0</text>
<text x="446.7" y="1164.7" font-size="6.3" class="tk">0</text>
<text x="450.7" y="1164.7" font-size="6.3" class="tk">10<tspan font-size="4.2" dy="-2.5">2</tspan><tspan dy="2.5" font-size="1"> </tspan></text>
<text x="470.5" y="1164.7" font-size="6.3" class="tk">10<tspan font-size="4.2" dy="-2.5">3</tspan><tspan dy="2.5" font-size="1"> </tspan></text>
<text x="489.8" y="1164.7" font-size="6.3" class="tk">10<tspan font-size="4.2" dy="-2.5">4</tspan><tspan dy="2.5" font-size="1"> </tspan></text>
<text x="502.5" y="1164.7" font-size="6.3" class="tk">10<tspan font-size="4.2" dy="-2.5">5</tspan><tspan dy="2.5" font-size="1"> </tspan></text>
<path d="M439.7 1098.6h-1.3M439.7 1095.7h-1.3M439.7 1093.7h-1.3M439.7 1092.1h-1.3M439.7 1090.9h-1.3M439.7 1089.8h-1.3M439.7 1088.9h-1.3M439.7 1088.0h-1.3M439.7 1115.8h-1.3M439.7 1112.7h-1.3M439.7 1110.4h-1.3M439.7 1108.7h-1.3M439.7 1107.3h-1.3M439.7 1106.1h-1.3M439.7 1105.1h-1.3M439.7 1104.2h-1.3M439.7 1133.0h-1.3M439.7 1130.0h-1.3M439.7 1127.9h-1.3M439.7 1126.2h-1.3M439.7 1124.9h-1.3M439.7 1123.7h-1.3M439.7 1122.7h-1.3M439.7 1121.9h-1.3M460.8 1154.1v1.3M464.5 1154.1v1.3M467.1 1154.1v1.3M469.2 1154.1v1.3M470.8 1154.1v1.3M472.2 1154.1v1.3M473.5 1154.1v1.3M474.5 1154.1v1.3M481.2 1154.1v1.3M484.6 1154.1v1.3M486.9 1154.1v1.3M488.8 1154.1v1.3M490.3 1154.1v1.3M491.6 1154.1v1.3M492.7 1154.1v1.3M493.6 1154.1v1.3M498.4 1154.1v1.3M500.7 1154.1v1.3M502.3 1154.1v1.3M503.6 1154.1v1.3M504.6 1154.1v1.3M505.5 1154.1v1.3M506.2 1154.1v1.3M506.9 1154.1v1.3" stroke="#000" stroke-width=".7" fill="none"/>
<line x1="437.9" y1="1087.3" x2="440.0" y2="1087.3" stroke="#000" stroke-width="1"/>
<line x1="437.9" y1="1103.4" x2="440.0" y2="1103.4" stroke="#000" stroke-width="1"/>
<line x1="437.9" y1="1121.1000000000001" x2="440.0" y2="1121.1000000000001" stroke="#000" stroke-width="1"/>
<line x1="437.9" y1="1138.1000000000001" x2="440.0" y2="1138.1000000000001" stroke="#000" stroke-width="1"/>
<line x1="437.9" y1="1146.7" x2="440.0" y2="1146.7" stroke="#000" stroke-width="1"/>
<line x1="448.5" y1="1153.8" x2="448.5" y2="1156.1" stroke="#000" stroke-width="1"/>
<line x1="454.5" y1="1153.8" x2="454.5" y2="1156.1" stroke="#000" stroke-width="1"/>
<line x1="475.5" y1="1153.8" x2="475.5" y2="1156.1" stroke="#000" stroke-width="1"/>
<line x1="494.5" y1="1153.8" x2="494.5" y2="1156.1" stroke="#000" stroke-width="1"/>
<line x1="507.5" y1="1153.8" x2="507.5" y2="1156.1" stroke="#000" stroke-width="1"/>
</svg></body></html>
